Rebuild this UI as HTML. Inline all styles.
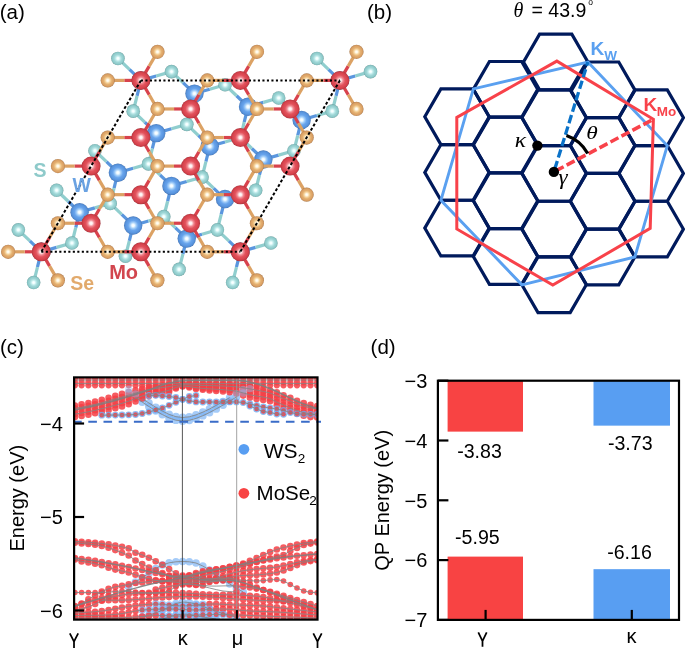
<!DOCTYPE html>
<html><head><meta charset="utf-8"><style>
html,body{margin:0;padding:0;background:#fff;width:685px;height:648px;overflow:hidden;}
svg{display:block;font-family:"Liberation Sans",sans-serif;will-change:transform;}
</style></head><body>
<svg width="685" height="648" viewBox="0 0 685 648">
<defs>
<radialGradient id="gMo" cx="0.5" cy="0.5" r="0.5"><stop offset="0" stop-color="#ffffff"/><stop offset="0.14" stop-color="#fff0f0"/><stop offset="0.34" stop-color="#f08890"/><stop offset="0.55" stop-color="#e2525c"/><stop offset="0.8" stop-color="#d8444e"/><stop offset="0.92" stop-color="#c83c46"/><stop offset="1" stop-color="#a0323a"/></radialGradient>
<radialGradient id="gW" cx="0.5" cy="0.5" r="0.5"><stop offset="0" stop-color="#ffffff"/><stop offset="0.14" stop-color="#f0faff"/><stop offset="0.34" stop-color="#a0ccf8"/><stop offset="0.55" stop-color="#68a4ec"/><stop offset="0.8" stop-color="#5a96e0"/><stop offset="0.92" stop-color="#528ad0"/><stop offset="1" stop-color="#4270b0"/></radialGradient>
<radialGradient id="gSe" cx="0.5" cy="0.5" r="0.5"><stop offset="0" stop-color="#ffffff"/><stop offset="0.16" stop-color="#fff8e4"/><stop offset="0.38" stop-color="#f4d098"/><stop offset="0.58" stop-color="#e4b070"/><stop offset="0.8" stop-color="#dca266"/><stop offset="0.92" stop-color="#cc945c"/><stop offset="1" stop-color="#a47446"/></radialGradient>
<radialGradient id="gS" cx="0.5" cy="0.5" r="0.5"><stop offset="0" stop-color="#ffffff"/><stop offset="0.16" stop-color="#f0ffff"/><stop offset="0.38" stop-color="#bce8e8"/><stop offset="0.58" stop-color="#9ed6d6"/><stop offset="0.8" stop-color="#90cccc"/><stop offset="0.92" stop-color="#82bebe"/><stop offset="1" stop-color="#649898"/></radialGradient>
</defs>
<line x1="140.90" y1="80.40" x2="129.43" y2="69.41" stroke="#5a96de" stroke-width="3.2"/><line x1="129.43" y1="69.41" x2="117.95" y2="58.43" stroke="#90cece" stroke-width="3.2"/>
<line x1="140.90" y1="80.40" x2="156.21" y2="76.01" stroke="#5a96de" stroke-width="3.2"/><line x1="156.21" y1="76.01" x2="171.52" y2="71.61" stroke="#90cece" stroke-width="3.2"/>
<line x1="140.90" y1="80.40" x2="137.06" y2="95.78" stroke="#5a96de" stroke-width="3.2"/><line x1="137.06" y1="95.78" x2="133.23" y2="111.16" stroke="#90cece" stroke-width="3.2"/>
<line x1="41.30" y1="251.80" x2="29.83" y2="240.81" stroke="#5a96de" stroke-width="3.2"/><line x1="29.83" y1="240.81" x2="18.35" y2="229.83" stroke="#90cece" stroke-width="3.2"/>
<line x1="41.30" y1="251.80" x2="56.61" y2="247.41" stroke="#5a96de" stroke-width="3.2"/><line x1="56.61" y1="247.41" x2="71.92" y2="243.01" stroke="#90cece" stroke-width="3.2"/>
<line x1="41.30" y1="251.80" x2="37.46" y2="267.18" stroke="#5a96de" stroke-width="3.2"/><line x1="37.46" y1="267.18" x2="33.63" y2="282.56" stroke="#90cece" stroke-width="3.2"/>
<line x1="79.59" y1="212.25" x2="68.12" y2="201.26" stroke="#5a96de" stroke-width="3.2"/><line x1="68.12" y1="201.26" x2="56.64" y2="190.27" stroke="#90cece" stroke-width="3.2"/>
<line x1="79.59" y1="212.25" x2="94.90" y2="207.85" stroke="#5a96de" stroke-width="3.2"/><line x1="94.90" y1="207.85" x2="110.21" y2="203.46" stroke="#90cece" stroke-width="3.2"/>
<line x1="79.59" y1="212.25" x2="75.76" y2="227.63" stroke="#5a96de" stroke-width="3.2"/><line x1="75.76" y1="227.63" x2="71.92" y2="243.01" stroke="#90cece" stroke-width="3.2"/>
<line x1="117.88" y1="172.69" x2="106.41" y2="161.71" stroke="#5a96de" stroke-width="3.2"/><line x1="106.41" y1="161.71" x2="94.94" y2="150.72" stroke="#90cece" stroke-width="3.2"/>
<line x1="117.88" y1="172.69" x2="133.19" y2="168.30" stroke="#5a96de" stroke-width="3.2"/><line x1="133.19" y1="168.30" x2="148.51" y2="163.90" stroke="#90cece" stroke-width="3.2"/>
<line x1="117.88" y1="172.69" x2="114.05" y2="188.07" stroke="#5a96de" stroke-width="3.2"/><line x1="114.05" y1="188.07" x2="110.21" y2="203.46" stroke="#90cece" stroke-width="3.2"/>
<line x1="156.18" y1="133.14" x2="144.70" y2="122.15" stroke="#5a96de" stroke-width="3.2"/><line x1="144.70" y1="122.15" x2="133.23" y2="111.16" stroke="#90cece" stroke-width="3.2"/>
<line x1="156.18" y1="133.14" x2="171.49" y2="128.74" stroke="#5a96de" stroke-width="3.2"/><line x1="171.49" y1="128.74" x2="186.80" y2="124.35" stroke="#90cece" stroke-width="3.2"/>
<line x1="156.18" y1="133.14" x2="152.34" y2="148.52" stroke="#5a96de" stroke-width="3.2"/><line x1="152.34" y1="148.52" x2="148.51" y2="163.90" stroke="#90cece" stroke-width="3.2"/>
<line x1="194.47" y1="93.58" x2="182.99" y2="82.60" stroke="#5a96de" stroke-width="3.2"/><line x1="182.99" y1="82.60" x2="171.52" y2="71.61" stroke="#90cece" stroke-width="3.2"/>
<line x1="194.47" y1="93.58" x2="209.78" y2="89.19" stroke="#5a96de" stroke-width="3.2"/><line x1="209.78" y1="89.19" x2="225.09" y2="84.79" stroke="#90cece" stroke-width="3.2"/>
<line x1="194.47" y1="93.58" x2="190.63" y2="108.97" stroke="#5a96de" stroke-width="3.2"/><line x1="190.63" y1="108.97" x2="186.80" y2="124.35" stroke="#90cece" stroke-width="3.2"/>
<line x1="133.16" y1="225.43" x2="121.69" y2="214.44" stroke="#5a96de" stroke-width="3.2"/><line x1="121.69" y1="214.44" x2="110.21" y2="203.46" stroke="#90cece" stroke-width="3.2"/>
<line x1="133.16" y1="225.43" x2="148.47" y2="221.04" stroke="#5a96de" stroke-width="3.2"/><line x1="148.47" y1="221.04" x2="163.78" y2="216.64" stroke="#90cece" stroke-width="3.2"/>
<line x1="133.16" y1="225.43" x2="129.33" y2="240.81" stroke="#5a96de" stroke-width="3.2"/><line x1="129.33" y1="240.81" x2="125.49" y2="256.19" stroke="#90cece" stroke-width="3.2"/>
<line x1="171.45" y1="185.88" x2="159.98" y2="174.89" stroke="#5a96de" stroke-width="3.2"/><line x1="159.98" y1="174.89" x2="148.51" y2="163.90" stroke="#90cece" stroke-width="3.2"/>
<line x1="171.45" y1="185.88" x2="186.76" y2="181.48" stroke="#5a96de" stroke-width="3.2"/><line x1="186.76" y1="181.48" x2="202.07" y2="177.09" stroke="#90cece" stroke-width="3.2"/>
<line x1="171.45" y1="185.88" x2="167.62" y2="201.26" stroke="#5a96de" stroke-width="3.2"/><line x1="167.62" y1="201.26" x2="163.78" y2="216.64" stroke="#90cece" stroke-width="3.2"/>
<line x1="209.75" y1="146.32" x2="198.27" y2="135.34" stroke="#5a96de" stroke-width="3.2"/><line x1="198.27" y1="135.34" x2="186.80" y2="124.35" stroke="#90cece" stroke-width="3.2"/>
<line x1="209.75" y1="146.32" x2="225.06" y2="141.93" stroke="#5a96de" stroke-width="3.2"/><line x1="225.06" y1="141.93" x2="240.37" y2="137.53" stroke="#90cece" stroke-width="3.2"/>
<line x1="209.75" y1="146.32" x2="205.91" y2="161.71" stroke="#5a96de" stroke-width="3.2"/><line x1="205.91" y1="161.71" x2="202.07" y2="177.09" stroke="#90cece" stroke-width="3.2"/>
<line x1="248.04" y1="106.77" x2="236.56" y2="95.78" stroke="#5a96de" stroke-width="3.2"/><line x1="236.56" y1="95.78" x2="225.09" y2="84.79" stroke="#90cece" stroke-width="3.2"/>
<line x1="248.04" y1="106.77" x2="263.35" y2="102.37" stroke="#5a96de" stroke-width="3.2"/><line x1="263.35" y1="102.37" x2="278.66" y2="97.98" stroke="#90cece" stroke-width="3.2"/>
<line x1="248.04" y1="106.77" x2="244.20" y2="122.15" stroke="#5a96de" stroke-width="3.2"/><line x1="244.20" y1="122.15" x2="240.37" y2="137.53" stroke="#90cece" stroke-width="3.2"/>
<line x1="186.73" y1="238.62" x2="175.26" y2="227.63" stroke="#5a96de" stroke-width="3.2"/><line x1="175.26" y1="227.63" x2="163.78" y2="216.64" stroke="#90cece" stroke-width="3.2"/>
<line x1="186.73" y1="238.62" x2="202.04" y2="234.22" stroke="#5a96de" stroke-width="3.2"/><line x1="202.04" y1="234.22" x2="217.35" y2="229.83" stroke="#90cece" stroke-width="3.2"/>
<line x1="186.73" y1="238.62" x2="182.89" y2="254.00" stroke="#5a96de" stroke-width="3.2"/><line x1="182.89" y1="254.00" x2="179.06" y2="269.38" stroke="#90cece" stroke-width="3.2"/>
<line x1="225.02" y1="199.06" x2="213.55" y2="188.07" stroke="#5a96de" stroke-width="3.2"/><line x1="213.55" y1="188.07" x2="202.07" y2="177.09" stroke="#90cece" stroke-width="3.2"/>
<line x1="225.02" y1="199.06" x2="240.33" y2="194.67" stroke="#5a96de" stroke-width="3.2"/><line x1="240.33" y1="194.67" x2="255.64" y2="190.27" stroke="#90cece" stroke-width="3.2"/>
<line x1="225.02" y1="199.06" x2="221.19" y2="214.44" stroke="#5a96de" stroke-width="3.2"/><line x1="221.19" y1="214.44" x2="217.35" y2="229.83" stroke="#90cece" stroke-width="3.2"/>
<line x1="263.32" y1="159.51" x2="251.84" y2="148.52" stroke="#5a96de" stroke-width="3.2"/><line x1="251.84" y1="148.52" x2="240.37" y2="137.53" stroke="#90cece" stroke-width="3.2"/>
<line x1="263.32" y1="159.51" x2="278.63" y2="155.11" stroke="#5a96de" stroke-width="3.2"/><line x1="278.63" y1="155.11" x2="293.94" y2="150.72" stroke="#90cece" stroke-width="3.2"/>
<line x1="263.32" y1="159.51" x2="259.48" y2="174.89" stroke="#5a96de" stroke-width="3.2"/><line x1="259.48" y1="174.89" x2="255.64" y2="190.27" stroke="#90cece" stroke-width="3.2"/>
<line x1="301.61" y1="119.95" x2="290.13" y2="108.97" stroke="#5a96de" stroke-width="3.2"/><line x1="290.13" y1="108.97" x2="278.66" y2="97.98" stroke="#90cece" stroke-width="3.2"/>
<line x1="301.61" y1="119.95" x2="316.92" y2="115.56" stroke="#5a96de" stroke-width="3.2"/><line x1="316.92" y1="115.56" x2="332.23" y2="111.16" stroke="#90cece" stroke-width="3.2"/>
<line x1="301.61" y1="119.95" x2="297.77" y2="135.34" stroke="#5a96de" stroke-width="3.2"/><line x1="297.77" y1="135.34" x2="293.94" y2="150.72" stroke="#90cece" stroke-width="3.2"/>
<line x1="339.90" y1="80.40" x2="328.43" y2="69.41" stroke="#5a96de" stroke-width="3.2"/><line x1="328.43" y1="69.41" x2="316.95" y2="58.43" stroke="#90cece" stroke-width="3.2"/>
<line x1="339.90" y1="80.40" x2="355.21" y2="76.01" stroke="#5a96de" stroke-width="3.2"/><line x1="355.21" y1="76.01" x2="370.52" y2="71.61" stroke="#90cece" stroke-width="3.2"/>
<line x1="339.90" y1="80.40" x2="336.06" y2="95.78" stroke="#5a96de" stroke-width="3.2"/><line x1="336.06" y1="95.78" x2="332.23" y2="111.16" stroke="#90cece" stroke-width="3.2"/>
<line x1="240.30" y1="251.80" x2="228.83" y2="240.81" stroke="#5a96de" stroke-width="3.2"/><line x1="228.83" y1="240.81" x2="217.35" y2="229.83" stroke="#90cece" stroke-width="3.2"/>
<line x1="240.30" y1="251.80" x2="255.61" y2="247.41" stroke="#5a96de" stroke-width="3.2"/><line x1="255.61" y1="247.41" x2="270.92" y2="243.01" stroke="#90cece" stroke-width="3.2"/>
<line x1="240.30" y1="251.80" x2="236.46" y2="267.18" stroke="#5a96de" stroke-width="3.2"/><line x1="236.46" y1="267.18" x2="232.63" y2="282.56" stroke="#90cece" stroke-width="3.2"/>
<circle cx="140.90" cy="80.40" r="9.20" fill="url(#gW)"/>
<circle cx="41.30" cy="251.80" r="9.20" fill="url(#gW)"/>
<circle cx="79.59" cy="212.25" r="9.20" fill="url(#gW)"/>
<circle cx="117.88" cy="172.69" r="9.20" fill="url(#gW)"/>
<circle cx="156.18" cy="133.14" r="9.20" fill="url(#gW)"/>
<circle cx="194.47" cy="93.58" r="9.20" fill="url(#gW)"/>
<circle cx="133.16" cy="225.43" r="9.20" fill="url(#gW)"/>
<circle cx="171.45" cy="185.88" r="9.20" fill="url(#gW)"/>
<circle cx="209.75" cy="146.32" r="9.20" fill="url(#gW)"/>
<circle cx="248.04" cy="106.77" r="9.20" fill="url(#gW)"/>
<circle cx="186.73" cy="238.62" r="9.20" fill="url(#gW)"/>
<circle cx="225.02" cy="199.06" r="9.20" fill="url(#gW)"/>
<circle cx="263.32" cy="159.51" r="9.20" fill="url(#gW)"/>
<circle cx="301.61" cy="119.95" r="9.20" fill="url(#gW)"/>
<circle cx="339.90" cy="80.40" r="9.20" fill="url(#gW)"/>
<circle cx="240.30" cy="251.80" r="9.20" fill="url(#gW)"/>
<circle cx="110.21" cy="203.46" r="6.80" fill="url(#gS)"/>
<circle cx="240.37" cy="137.53" r="6.80" fill="url(#gS)"/>
<circle cx="217.35" cy="229.83" r="6.80" fill="url(#gS)"/>
<circle cx="332.23" cy="111.16" r="6.80" fill="url(#gS)"/>
<circle cx="316.95" cy="58.43" r="6.80" fill="url(#gS)"/>
<circle cx="33.63" cy="282.56" r="6.80" fill="url(#gS)"/>
<circle cx="202.07" cy="177.09" r="6.80" fill="url(#gS)"/>
<circle cx="186.80" cy="124.35" r="6.80" fill="url(#gS)"/>
<circle cx="270.92" cy="243.01" r="6.80" fill="url(#gS)"/>
<circle cx="278.66" cy="97.98" r="6.80" fill="url(#gS)"/>
<circle cx="71.92" cy="243.01" r="6.80" fill="url(#gS)"/>
<circle cx="225.09" cy="84.79" r="6.80" fill="url(#gS)"/>
<circle cx="179.06" cy="269.38" r="6.80" fill="url(#gS)"/>
<circle cx="370.52" cy="71.61" r="6.80" fill="url(#gS)"/>
<circle cx="133.23" cy="111.16" r="6.80" fill="url(#gS)"/>
<circle cx="293.94" cy="150.72" r="6.80" fill="url(#gS)"/>
<circle cx="171.52" cy="71.61" r="6.80" fill="url(#gS)"/>
<circle cx="232.63" cy="282.56" r="6.80" fill="url(#gS)"/>
<circle cx="125.49" cy="256.19" r="6.80" fill="url(#gS)"/>
<circle cx="255.64" cy="190.27" r="6.80" fill="url(#gS)"/>
<circle cx="94.94" cy="150.72" r="6.80" fill="url(#gS)"/>
<circle cx="148.51" cy="163.90" r="6.80" fill="url(#gS)"/>
<circle cx="18.35" cy="229.83" r="6.80" fill="url(#gS)"/>
<circle cx="117.95" cy="58.43" r="6.80" fill="url(#gS)"/>
<circle cx="163.78" cy="216.64" r="6.80" fill="url(#gS)"/>
<circle cx="56.64" cy="190.27" r="6.80" fill="url(#gS)"/>
<line x1="140.90" y1="80.40" x2="124.32" y2="80.40" stroke="#d8424c" stroke-width="3.2"/><line x1="124.32" y1="80.40" x2="107.73" y2="80.40" stroke="#dca264" stroke-width="3.2"/>
<line x1="140.90" y1="80.40" x2="149.18" y2="94.68" stroke="#d8424c" stroke-width="3.2"/><line x1="149.18" y1="94.68" x2="157.47" y2="108.97" stroke="#dca264" stroke-width="3.2"/>
<line x1="140.90" y1="80.40" x2="149.20" y2="66.12" stroke="#d8424c" stroke-width="3.2"/><line x1="149.20" y1="66.12" x2="157.50" y2="51.83" stroke="#dca264" stroke-width="3.2"/>
<line x1="91.10" y1="166.10" x2="74.52" y2="166.10" stroke="#d8424c" stroke-width="3.2"/><line x1="74.52" y1="166.10" x2="57.93" y2="166.10" stroke="#dca264" stroke-width="3.2"/>
<line x1="91.10" y1="166.10" x2="99.38" y2="180.38" stroke="#d8424c" stroke-width="3.2"/><line x1="99.38" y1="180.38" x2="107.67" y2="194.67" stroke="#dca264" stroke-width="3.2"/>
<line x1="91.10" y1="166.10" x2="99.40" y2="151.82" stroke="#d8424c" stroke-width="3.2"/><line x1="99.40" y1="151.82" x2="107.70" y2="137.53" stroke="#dca264" stroke-width="3.2"/>
<line x1="41.30" y1="251.80" x2="24.72" y2="251.80" stroke="#d8424c" stroke-width="3.2"/><line x1="24.72" y1="251.80" x2="8.13" y2="251.80" stroke="#dca264" stroke-width="3.2"/>
<line x1="41.30" y1="251.80" x2="49.58" y2="266.08" stroke="#d8424c" stroke-width="3.2"/><line x1="49.58" y1="266.08" x2="57.87" y2="280.37" stroke="#dca264" stroke-width="3.2"/>
<line x1="41.30" y1="251.80" x2="49.60" y2="237.52" stroke="#d8424c" stroke-width="3.2"/><line x1="49.60" y1="237.52" x2="57.90" y2="223.23" stroke="#dca264" stroke-width="3.2"/>
<line x1="140.87" y1="137.53" x2="124.28" y2="137.53" stroke="#d8424c" stroke-width="3.2"/><line x1="124.28" y1="137.53" x2="107.70" y2="137.53" stroke="#dca264" stroke-width="3.2"/>
<line x1="140.87" y1="137.53" x2="149.15" y2="151.82" stroke="#d8424c" stroke-width="3.2"/><line x1="149.15" y1="151.82" x2="157.43" y2="166.10" stroke="#dca264" stroke-width="3.2"/>
<line x1="140.87" y1="137.53" x2="149.17" y2="123.25" stroke="#d8424c" stroke-width="3.2"/><line x1="149.17" y1="123.25" x2="157.47" y2="108.97" stroke="#dca264" stroke-width="3.2"/>
<line x1="91.07" y1="223.23" x2="74.48" y2="223.23" stroke="#d8424c" stroke-width="3.2"/><line x1="74.48" y1="223.23" x2="57.90" y2="223.23" stroke="#dca264" stroke-width="3.2"/>
<line x1="91.07" y1="223.23" x2="99.35" y2="237.52" stroke="#d8424c" stroke-width="3.2"/><line x1="99.35" y1="237.52" x2="107.63" y2="251.80" stroke="#dca264" stroke-width="3.2"/>
<line x1="91.07" y1="223.23" x2="99.37" y2="208.95" stroke="#d8424c" stroke-width="3.2"/><line x1="99.37" y1="208.95" x2="107.67" y2="194.67" stroke="#dca264" stroke-width="3.2"/>
<line x1="190.63" y1="108.97" x2="174.05" y2="108.97" stroke="#d8424c" stroke-width="3.2"/><line x1="174.05" y1="108.97" x2="157.47" y2="108.97" stroke="#dca264" stroke-width="3.2"/>
<line x1="190.63" y1="108.97" x2="198.92" y2="123.25" stroke="#d8424c" stroke-width="3.2"/><line x1="198.92" y1="123.25" x2="207.20" y2="137.53" stroke="#dca264" stroke-width="3.2"/>
<line x1="190.63" y1="108.97" x2="198.93" y2="94.68" stroke="#d8424c" stroke-width="3.2"/><line x1="198.93" y1="94.68" x2="207.23" y2="80.40" stroke="#dca264" stroke-width="3.2"/>
<line x1="140.83" y1="194.67" x2="124.25" y2="194.67" stroke="#d8424c" stroke-width="3.2"/><line x1="124.25" y1="194.67" x2="107.67" y2="194.67" stroke="#dca264" stroke-width="3.2"/>
<line x1="140.83" y1="194.67" x2="149.12" y2="208.95" stroke="#d8424c" stroke-width="3.2"/><line x1="149.12" y1="208.95" x2="157.40" y2="223.23" stroke="#dca264" stroke-width="3.2"/>
<line x1="140.83" y1="194.67" x2="149.13" y2="180.38" stroke="#d8424c" stroke-width="3.2"/><line x1="149.13" y1="180.38" x2="157.43" y2="166.10" stroke="#dca264" stroke-width="3.2"/>
<line x1="240.40" y1="80.40" x2="223.82" y2="80.40" stroke="#d8424c" stroke-width="3.2"/><line x1="223.82" y1="80.40" x2="207.23" y2="80.40" stroke="#dca264" stroke-width="3.2"/>
<line x1="240.40" y1="80.40" x2="248.68" y2="94.68" stroke="#d8424c" stroke-width="3.2"/><line x1="248.68" y1="94.68" x2="256.97" y2="108.97" stroke="#dca264" stroke-width="3.2"/>
<line x1="240.40" y1="80.40" x2="248.70" y2="66.12" stroke="#d8424c" stroke-width="3.2"/><line x1="248.70" y1="66.12" x2="257.00" y2="51.83" stroke="#dca264" stroke-width="3.2"/>
<line x1="190.60" y1="166.10" x2="174.02" y2="166.10" stroke="#d8424c" stroke-width="3.2"/><line x1="174.02" y1="166.10" x2="157.43" y2="166.10" stroke="#dca264" stroke-width="3.2"/>
<line x1="190.60" y1="166.10" x2="198.88" y2="180.38" stroke="#d8424c" stroke-width="3.2"/><line x1="198.88" y1="180.38" x2="207.17" y2="194.67" stroke="#dca264" stroke-width="3.2"/>
<line x1="190.60" y1="166.10" x2="198.90" y2="151.82" stroke="#d8424c" stroke-width="3.2"/><line x1="198.90" y1="151.82" x2="207.20" y2="137.53" stroke="#dca264" stroke-width="3.2"/>
<line x1="140.80" y1="251.80" x2="124.22" y2="251.80" stroke="#d8424c" stroke-width="3.2"/><line x1="124.22" y1="251.80" x2="107.63" y2="251.80" stroke="#dca264" stroke-width="3.2"/>
<line x1="140.80" y1="251.80" x2="149.08" y2="266.08" stroke="#d8424c" stroke-width="3.2"/><line x1="149.08" y1="266.08" x2="157.37" y2="280.37" stroke="#dca264" stroke-width="3.2"/>
<line x1="140.80" y1="251.80" x2="149.10" y2="237.52" stroke="#d8424c" stroke-width="3.2"/><line x1="149.10" y1="237.52" x2="157.40" y2="223.23" stroke="#dca264" stroke-width="3.2"/>
<line x1="240.37" y1="137.53" x2="223.78" y2="137.53" stroke="#d8424c" stroke-width="3.2"/><line x1="223.78" y1="137.53" x2="207.20" y2="137.53" stroke="#dca264" stroke-width="3.2"/>
<line x1="240.37" y1="137.53" x2="248.65" y2="151.82" stroke="#d8424c" stroke-width="3.2"/><line x1="248.65" y1="151.82" x2="256.93" y2="166.10" stroke="#dca264" stroke-width="3.2"/>
<line x1="240.37" y1="137.53" x2="248.67" y2="123.25" stroke="#d8424c" stroke-width="3.2"/><line x1="248.67" y1="123.25" x2="256.97" y2="108.97" stroke="#dca264" stroke-width="3.2"/>
<line x1="190.57" y1="223.23" x2="173.98" y2="223.23" stroke="#d8424c" stroke-width="3.2"/><line x1="173.98" y1="223.23" x2="157.40" y2="223.23" stroke="#dca264" stroke-width="3.2"/>
<line x1="190.57" y1="223.23" x2="198.85" y2="237.52" stroke="#d8424c" stroke-width="3.2"/><line x1="198.85" y1="237.52" x2="207.13" y2="251.80" stroke="#dca264" stroke-width="3.2"/>
<line x1="190.57" y1="223.23" x2="198.87" y2="208.95" stroke="#d8424c" stroke-width="3.2"/><line x1="198.87" y1="208.95" x2="207.17" y2="194.67" stroke="#dca264" stroke-width="3.2"/>
<line x1="290.13" y1="108.97" x2="273.55" y2="108.97" stroke="#d8424c" stroke-width="3.2"/><line x1="273.55" y1="108.97" x2="256.97" y2="108.97" stroke="#dca264" stroke-width="3.2"/>
<line x1="290.13" y1="108.97" x2="298.42" y2="123.25" stroke="#d8424c" stroke-width="3.2"/><line x1="298.42" y1="123.25" x2="306.70" y2="137.53" stroke="#dca264" stroke-width="3.2"/>
<line x1="290.13" y1="108.97" x2="298.43" y2="94.68" stroke="#d8424c" stroke-width="3.2"/><line x1="298.43" y1="94.68" x2="306.73" y2="80.40" stroke="#dca264" stroke-width="3.2"/>
<line x1="240.33" y1="194.67" x2="223.75" y2="194.67" stroke="#d8424c" stroke-width="3.2"/><line x1="223.75" y1="194.67" x2="207.17" y2="194.67" stroke="#dca264" stroke-width="3.2"/>
<line x1="240.33" y1="194.67" x2="248.62" y2="208.95" stroke="#d8424c" stroke-width="3.2"/><line x1="248.62" y1="208.95" x2="256.90" y2="223.23" stroke="#dca264" stroke-width="3.2"/>
<line x1="240.33" y1="194.67" x2="248.63" y2="180.38" stroke="#d8424c" stroke-width="3.2"/><line x1="248.63" y1="180.38" x2="256.93" y2="166.10" stroke="#dca264" stroke-width="3.2"/>
<line x1="339.90" y1="80.40" x2="323.32" y2="80.40" stroke="#d8424c" stroke-width="3.2"/><line x1="323.32" y1="80.40" x2="306.73" y2="80.40" stroke="#dca264" stroke-width="3.2"/>
<line x1="339.90" y1="80.40" x2="348.18" y2="94.68" stroke="#d8424c" stroke-width="3.2"/><line x1="348.18" y1="94.68" x2="356.47" y2="108.97" stroke="#dca264" stroke-width="3.2"/>
<line x1="339.90" y1="80.40" x2="348.20" y2="66.12" stroke="#d8424c" stroke-width="3.2"/><line x1="348.20" y1="66.12" x2="356.50" y2="51.83" stroke="#dca264" stroke-width="3.2"/>
<line x1="290.10" y1="166.10" x2="273.52" y2="166.10" stroke="#d8424c" stroke-width="3.2"/><line x1="273.52" y1="166.10" x2="256.93" y2="166.10" stroke="#dca264" stroke-width="3.2"/>
<line x1="290.10" y1="166.10" x2="298.38" y2="180.38" stroke="#d8424c" stroke-width="3.2"/><line x1="298.38" y1="180.38" x2="306.67" y2="194.67" stroke="#dca264" stroke-width="3.2"/>
<line x1="290.10" y1="166.10" x2="298.40" y2="151.82" stroke="#d8424c" stroke-width="3.2"/><line x1="298.40" y1="151.82" x2="306.70" y2="137.53" stroke="#dca264" stroke-width="3.2"/>
<line x1="240.30" y1="251.80" x2="223.72" y2="251.80" stroke="#d8424c" stroke-width="3.2"/><line x1="223.72" y1="251.80" x2="207.13" y2="251.80" stroke="#dca264" stroke-width="3.2"/>
<line x1="240.30" y1="251.80" x2="248.58" y2="266.08" stroke="#d8424c" stroke-width="3.2"/><line x1="248.58" y1="266.08" x2="256.87" y2="280.37" stroke="#dca264" stroke-width="3.2"/>
<line x1="240.30" y1="251.80" x2="248.60" y2="237.52" stroke="#d8424c" stroke-width="3.2"/><line x1="248.60" y1="237.52" x2="256.90" y2="223.23" stroke="#dca264" stroke-width="3.2"/>
<circle cx="140.90" cy="80.40" r="9.50" fill="url(#gMo)"/>
<circle cx="91.10" cy="166.10" r="9.50" fill="url(#gMo)"/>
<circle cx="41.30" cy="251.80" r="9.50" fill="url(#gMo)"/>
<circle cx="140.87" cy="137.53" r="9.50" fill="url(#gMo)"/>
<circle cx="91.07" cy="223.23" r="9.50" fill="url(#gMo)"/>
<circle cx="190.63" cy="108.97" r="9.50" fill="url(#gMo)"/>
<circle cx="140.83" cy="194.67" r="9.50" fill="url(#gMo)"/>
<circle cx="240.40" cy="80.40" r="9.50" fill="url(#gMo)"/>
<circle cx="190.60" cy="166.10" r="9.50" fill="url(#gMo)"/>
<circle cx="140.80" cy="251.80" r="9.50" fill="url(#gMo)"/>
<circle cx="240.37" cy="137.53" r="9.50" fill="url(#gMo)"/>
<circle cx="190.57" cy="223.23" r="9.50" fill="url(#gMo)"/>
<circle cx="290.13" cy="108.97" r="9.50" fill="url(#gMo)"/>
<circle cx="240.33" cy="194.67" r="9.50" fill="url(#gMo)"/>
<circle cx="339.90" cy="80.40" r="9.50" fill="url(#gMo)"/>
<circle cx="290.10" cy="166.10" r="9.50" fill="url(#gMo)"/>
<circle cx="240.30" cy="251.80" r="9.50" fill="url(#gMo)"/>
<circle cx="107.63" cy="251.80" r="7.10" fill="url(#gSe)"/>
<circle cx="256.93" cy="166.10" r="7.10" fill="url(#gSe)"/>
<circle cx="306.73" cy="80.40" r="7.10" fill="url(#gSe)"/>
<circle cx="157.40" cy="223.23" r="7.10" fill="url(#gSe)"/>
<circle cx="257.00" cy="51.83" r="7.10" fill="url(#gSe)"/>
<circle cx="207.20" cy="137.53" r="7.10" fill="url(#gSe)"/>
<circle cx="157.37" cy="280.37" r="7.10" fill="url(#gSe)"/>
<circle cx="256.87" cy="280.37" r="7.10" fill="url(#gSe)"/>
<circle cx="8.13" cy="251.80" r="7.10" fill="url(#gSe)"/>
<circle cx="157.43" cy="166.10" r="7.10" fill="url(#gSe)"/>
<circle cx="207.23" cy="80.40" r="7.10" fill="url(#gSe)"/>
<circle cx="157.50" cy="51.83" r="7.10" fill="url(#gSe)"/>
<circle cx="107.70" cy="137.53" r="7.10" fill="url(#gSe)"/>
<circle cx="57.90" cy="223.23" r="7.10" fill="url(#gSe)"/>
<circle cx="57.87" cy="280.37" r="7.10" fill="url(#gSe)"/>
<circle cx="256.97" cy="108.97" r="7.10" fill="url(#gSe)"/>
<circle cx="207.17" cy="194.67" r="7.10" fill="url(#gSe)"/>
<circle cx="57.93" cy="166.10" r="7.10" fill="url(#gSe)"/>
<circle cx="107.73" cy="80.40" r="7.10" fill="url(#gSe)"/>
<circle cx="356.47" cy="108.97" r="7.10" fill="url(#gSe)"/>
<circle cx="306.67" cy="194.67" r="7.10" fill="url(#gSe)"/>
<circle cx="207.13" cy="251.80" r="7.10" fill="url(#gSe)"/>
<circle cx="306.70" cy="137.53" r="7.10" fill="url(#gSe)"/>
<circle cx="256.90" cy="223.23" r="7.10" fill="url(#gSe)"/>
<circle cx="356.50" cy="51.83" r="7.10" fill="url(#gSe)"/>
<circle cx="107.67" cy="194.67" r="7.10" fill="url(#gSe)"/>
<circle cx="157.47" cy="108.97" r="7.10" fill="url(#gSe)"/>
<line x1="140.90" y1="80.40" x2="339.90" y2="80.40" stroke="#000" stroke-width="2.0" stroke-dasharray="2.1,2.4"/>
<line x1="41.30" y1="251.80" x2="240.30" y2="251.80" stroke="#000" stroke-width="2.0" stroke-dasharray="2.1,2.4"/>
<line x1="140.90" y1="80.40" x2="41.30" y2="251.80" stroke="#000" stroke-width="2.0" stroke-dasharray="2.9,2.1"/>
<line x1="339.90" y1="80.40" x2="240.30" y2="251.80" stroke="#000" stroke-width="2.0" stroke-dasharray="2.9,2.1"/>
<text x="33.6" y="176.8" font-family="Liberation Sans, sans-serif" font-weight="bold" font-size="19.5" fill="#8ecaca">S</text>
<text x="72.6" y="192.4" font-family="Liberation Sans, sans-serif" font-weight="bold" font-size="19.5" fill="#6aa2e2">W</text>
<text x="109.2" y="278.8" font-family="Liberation Sans, sans-serif" font-weight="bold" font-size="20" fill="#d2464e">Mo</text>
<text x="70.2" y="290.2" font-family="Liberation Sans, sans-serif" font-weight="bold" font-size="19.5" fill="#e2aa6c">Se</text>
<polygon points="489.20,116.70 473.10,144.55 440.90,144.55 424.80,116.70 440.90,88.85 473.10,88.85" fill="none" stroke="#001a5c" stroke-width="3.2" stroke-linejoin="miter"/>
<polygon points="489.20,172.40 473.10,200.25 440.90,200.25 424.80,172.40 440.90,144.55 473.10,144.55" fill="none" stroke="#001a5c" stroke-width="3.2" stroke-linejoin="miter"/>
<polygon points="489.20,228.10 473.10,255.95 440.90,255.95 424.80,228.10 440.90,200.25 473.10,200.25" fill="none" stroke="#001a5c" stroke-width="3.2" stroke-linejoin="miter"/>
<polygon points="537.75,89.35 521.65,117.20 489.45,117.20 473.35,89.35 489.45,61.50 521.65,61.50" fill="none" stroke="#001a5c" stroke-width="3.2" stroke-linejoin="miter"/>
<polygon points="537.75,145.05 521.65,172.90 489.45,172.90 473.35,145.05 489.45,117.20 521.65,117.20" fill="none" stroke="#001a5c" stroke-width="3.2" stroke-linejoin="miter"/>
<polygon points="537.75,200.75 521.65,228.60 489.45,228.60 473.35,200.75 489.45,172.90 521.65,172.90" fill="none" stroke="#001a5c" stroke-width="3.2" stroke-linejoin="miter"/>
<polygon points="537.75,256.45 521.65,284.30 489.45,284.30 473.35,256.45 489.45,228.60 521.65,228.60" fill="none" stroke="#001a5c" stroke-width="3.2" stroke-linejoin="miter"/>
<polygon points="587.90,62.00 571.80,89.85 539.60,89.85 523.50,62.00 539.60,34.15 571.80,34.15" fill="none" stroke="#001a5c" stroke-width="3.2" stroke-linejoin="miter"/>
<polygon points="586.30,117.70 570.20,145.55 538.00,145.55 521.90,117.70 538.00,89.85 570.20,89.85" fill="none" stroke="#001a5c" stroke-width="3.2" stroke-linejoin="miter"/>
<polygon points="586.30,173.40 570.20,201.25 538.00,201.25 521.90,173.40 538.00,145.55 570.20,145.55" fill="none" stroke="#001a5c" stroke-width="3.2" stroke-linejoin="miter"/>
<polygon points="586.30,229.10 570.20,256.95 538.00,256.95 521.90,229.10 538.00,201.25 570.20,201.25" fill="none" stroke="#001a5c" stroke-width="3.2" stroke-linejoin="miter"/>
<polygon points="586.30,284.80 570.20,312.65 538.00,312.65 521.90,284.80 538.00,256.95 570.20,256.95" fill="none" stroke="#001a5c" stroke-width="3.2" stroke-linejoin="miter"/>
<polygon points="634.85,89.85 618.75,117.70 586.55,117.70 570.45,89.85 586.55,62.00 618.75,62.00" fill="none" stroke="#001a5c" stroke-width="3.2" stroke-linejoin="miter"/>
<polygon points="634.85,145.55 618.75,173.40 586.55,173.40 570.45,145.55 586.55,117.70 618.75,117.70" fill="none" stroke="#001a5c" stroke-width="3.2" stroke-linejoin="miter"/>
<polygon points="634.85,201.25 618.75,229.10 586.55,229.10 570.45,201.25 586.55,173.40 618.75,173.40" fill="none" stroke="#001a5c" stroke-width="3.2" stroke-linejoin="miter"/>
<polygon points="634.85,256.95 618.75,284.80 586.55,284.80 570.45,256.95 586.55,229.10 618.75,229.10" fill="none" stroke="#001a5c" stroke-width="3.2" stroke-linejoin="miter"/>
<polygon points="683.40,117.70 667.30,145.55 635.10,145.55 619.00,117.70 635.10,89.85 667.30,89.85" fill="none" stroke="#001a5c" stroke-width="3.2" stroke-linejoin="miter"/>
<polygon points="683.40,173.40 667.30,201.25 635.10,201.25 619.00,173.40 635.10,145.55 667.30,145.55" fill="none" stroke="#001a5c" stroke-width="3.2" stroke-linejoin="miter"/>
<polygon points="683.40,229.10 667.30,256.95 635.10,256.95 619.00,229.10 635.10,201.25 667.30,201.25" fill="none" stroke="#001a5c" stroke-width="3.2" stroke-linejoin="miter"/>
<polygon points="587.90,62.00 667.30,145.55 634.85,256.95 521.90,284.80 440.90,200.25 473.35,88.85" fill="none" stroke="#5aa0f0" stroke-width="2.9"/>
<polygon points="556.90,61.10 653.40,119.30 650.20,228.40 552.80,285.10 456.80,229.00 456.80,117.50" fill="none" stroke="#f8424a" stroke-width="3"/>
<line x1="553.90" y1="171.90" x2="587.90" y2="62.00" stroke="#0b72c8" stroke-width="3.3" stroke-dasharray="8.5,3.5" stroke-dashoffset="-3"/>
<line x1="553.90" y1="171.90" x2="653.40" y2="119.30" stroke="#f8424a" stroke-width="3.6" stroke-dasharray="9,3.4" stroke-dashoffset="-2"/>
<path d="M566.43,135.50 A38.5,38.5 0 0 1 587.73,153.53" fill="none" stroke="#000" stroke-width="3.2"/>
<circle cx="553.90" cy="171.90" r="5.2" fill="#000"/>
<circle cx="537.4" cy="145.6" r="5.2" fill="#000"/>
<text x="513.5" y="16.6" font-family="Liberation Serif, serif" font-style="italic" font-size="20">&#952;</text>
<text x="531.5" y="16.6" font-family="Liberation Sans, sans-serif" font-size="19.5">= 43.9</text>
<text x="588.2" y="4.9" font-family="Liberation Sans, sans-serif" font-size="8.5">o</text>
<text x="590.6" y="55.2" font-family="Liberation Sans, sans-serif" font-size="19" font-weight="bold" fill="#5aa0f0">K</text>
<text x="604.3" y="60" font-family="Liberation Sans, sans-serif" font-size="13.5" font-weight="bold" fill="#5aa0f0">W</text>
<text x="643.6" y="110.5" font-family="Liberation Sans, sans-serif" font-size="19" font-weight="bold" fill="#f8424a">K</text>
<text x="656.8" y="115.9" font-family="Liberation Sans, sans-serif" font-size="13.5" font-weight="bold" fill="#f8424a">Mo</text>
<text transform="translate(586.3,138.8) scale(1.2,1)" font-family="Liberation Serif, serif" font-style="italic" font-size="19.5">&#952;</text>
<text transform="translate(514.8,146.6) scale(1.12,1)" font-family="Liberation Serif, serif" font-style="italic" font-size="21">&#954;</text>
<text transform="translate(558.6,183.6) scale(1.1,1)" font-family="Liberation Serif, serif" font-style="italic" font-size="21">&#947;</text>
<defs><clipPath id="cclip"><rect x="74.1" y="377.4" width="243.4" height="242.2"/></clipPath></defs>
<g clip-path="url(#cclip)">
<circle cx="142.2" cy="398.5" r="3.9" fill="rgba(118,176,244,0.66)"/><circle cx="148.9" cy="403.0" r="3.9" fill="rgba(118,176,244,0.66)"/><circle cx="155.7" cy="407.3" r="3.9" fill="rgba(118,176,244,0.66)"/><circle cx="162.4" cy="411.1" r="3.9" fill="rgba(118,176,244,0.66)"/><circle cx="169.1" cy="414.4" r="3.9" fill="rgba(118,176,244,0.66)"/><circle cx="175.9" cy="416.7" r="3.9" fill="rgba(118,176,244,0.66)"/><circle cx="182.6" cy="417.5" r="3.9" fill="rgba(118,176,244,0.66)"/><circle cx="189.3" cy="416.8" r="3.9" fill="rgba(118,176,244,0.66)"/><circle cx="196.0" cy="414.9" r="3.9" fill="rgba(118,176,244,0.66)"/><circle cx="202.8" cy="412.2" r="3.9" fill="rgba(118,176,244,0.66)"/><circle cx="209.5" cy="409.0" r="3.9" fill="rgba(118,176,244,0.66)"/><circle cx="216.2" cy="405.4" r="3.9" fill="rgba(118,176,244,0.66)"/><circle cx="223.0" cy="401.6" r="3.9" fill="rgba(118,176,244,0.66)"/><circle cx="229.7" cy="397.6" r="3.9" fill="rgba(118,176,244,0.66)"/>
<circle cx="135.5" cy="397.4" r="3.9" fill="rgba(118,176,244,0.66)"/><circle cx="142.2" cy="402.0" r="3.9" fill="rgba(118,176,244,0.66)"/><circle cx="148.9" cy="406.5" r="3.9" fill="rgba(118,176,244,0.66)"/><circle cx="155.7" cy="410.8" r="3.9" fill="rgba(118,176,244,0.66)"/><circle cx="162.4" cy="414.6" r="3.9" fill="rgba(118,176,244,0.66)"/><circle cx="169.1" cy="417.9" r="3.9" fill="rgba(118,176,244,0.66)"/><circle cx="175.9" cy="420.2" r="3.9" fill="rgba(118,176,244,0.66)"/><circle cx="182.6" cy="421.0" r="3.9" fill="rgba(118,176,244,0.66)"/><circle cx="189.3" cy="420.3" r="3.9" fill="rgba(118,176,244,0.66)"/><circle cx="196.0" cy="418.4" r="3.9" fill="rgba(118,176,244,0.66)"/><circle cx="202.8" cy="415.7" r="3.9" fill="rgba(118,176,244,0.66)"/><circle cx="209.5" cy="412.5" r="3.9" fill="rgba(118,176,244,0.66)"/><circle cx="216.2" cy="408.9" r="3.9" fill="rgba(118,176,244,0.66)"/><circle cx="223.0" cy="405.1" r="3.9" fill="rgba(118,176,244,0.66)"/><circle cx="229.7" cy="401.1" r="3.9" fill="rgba(118,176,244,0.66)"/><circle cx="236.4" cy="397.0" r="3.9" fill="rgba(118,176,244,0.66)"/>
<circle cx="74.9" cy="378.5" r="3.1" fill="rgba(245,64,70,0.86)"/><circle cx="81.6" cy="378.5" r="3.1" fill="rgba(245,64,70,0.86)"/><circle cx="88.4" cy="378.5" r="3.1" fill="rgba(245,64,70,0.86)"/><circle cx="95.1" cy="378.5" r="3.1" fill="rgba(245,64,70,0.86)"/><circle cx="101.8" cy="378.5" r="3.1" fill="rgba(245,64,70,0.86)"/><circle cx="108.6" cy="378.5" r="3.1" fill="rgba(245,64,70,0.86)"/><circle cx="115.3" cy="378.5" r="3.1" fill="rgba(245,64,70,0.86)"/><circle cx="122.0" cy="378.5" r="3.1" fill="rgba(245,64,70,0.86)"/><circle cx="128.7" cy="378.5" r="3.1" fill="rgba(245,64,70,0.86)"/><circle cx="135.5" cy="378.5" r="3.1" fill="rgba(245,64,70,0.86)"/><circle cx="142.2" cy="378.5" r="3.1" fill="rgba(245,64,70,0.86)"/><circle cx="148.9" cy="378.5" r="3.1" fill="rgba(245,64,70,0.86)"/><circle cx="155.7" cy="378.5" r="3.1" fill="rgba(245,64,70,0.86)"/><circle cx="162.4" cy="378.5" r="3.1" fill="rgba(245,64,70,0.86)"/><circle cx="169.1" cy="378.5" r="3.1" fill="rgba(245,64,70,0.86)"/><circle cx="175.9" cy="378.5" r="3.1" fill="rgba(245,64,70,0.86)"/><circle cx="182.6" cy="378.5" r="3.1" fill="rgba(245,64,70,0.86)"/><circle cx="189.3" cy="378.5" r="3.1" fill="rgba(245,64,70,0.86)"/><circle cx="196.0" cy="378.5" r="3.1" fill="rgba(245,64,70,0.86)"/><circle cx="202.8" cy="378.5" r="3.1" fill="rgba(245,64,70,0.86)"/><circle cx="209.5" cy="378.5" r="3.1" fill="rgba(245,64,70,0.86)"/><circle cx="216.2" cy="378.5" r="3.1" fill="rgba(245,64,70,0.86)"/><circle cx="223.0" cy="378.5" r="3.1" fill="rgba(245,64,70,0.86)"/><circle cx="229.7" cy="378.5" r="3.1" fill="rgba(245,64,70,0.86)"/><circle cx="236.4" cy="378.5" r="3.1" fill="rgba(245,64,70,0.86)"/><circle cx="243.2" cy="378.5" r="3.1" fill="rgba(245,64,70,0.86)"/><circle cx="249.9" cy="378.5" r="3.1" fill="rgba(245,64,70,0.86)"/><circle cx="256.6" cy="378.5" r="3.1" fill="rgba(245,64,70,0.86)"/><circle cx="263.3" cy="378.5" r="3.1" fill="rgba(245,64,70,0.86)"/><circle cx="270.1" cy="378.5" r="3.1" fill="rgba(245,64,70,0.86)"/><circle cx="276.8" cy="378.5" r="3.1" fill="rgba(245,64,70,0.86)"/><circle cx="283.5" cy="378.5" r="3.1" fill="rgba(245,64,70,0.86)"/><circle cx="290.3" cy="378.5" r="3.1" fill="rgba(245,64,70,0.86)"/><circle cx="297.0" cy="378.5" r="3.1" fill="rgba(245,64,70,0.86)"/><circle cx="303.7" cy="378.5" r="3.1" fill="rgba(245,64,70,0.86)"/><circle cx="310.5" cy="378.5" r="3.1" fill="rgba(245,64,70,0.86)"/><circle cx="317.2" cy="378.5" r="3.1" fill="rgba(245,64,70,0.86)"/>
<circle cx="74.9" cy="382.3" r="3.1" fill="rgba(245,64,70,0.86)"/><circle cx="81.6" cy="382.3" r="3.1" fill="rgba(245,64,70,0.86)"/><circle cx="88.4" cy="382.3" r="3.1" fill="rgba(245,64,70,0.86)"/><circle cx="95.1" cy="382.3" r="3.1" fill="rgba(245,64,70,0.86)"/><circle cx="101.8" cy="382.3" r="3.1" fill="rgba(245,64,70,0.86)"/><circle cx="108.6" cy="382.3" r="3.1" fill="rgba(245,64,70,0.86)"/><circle cx="115.3" cy="382.3" r="3.1" fill="rgba(245,64,70,0.86)"/><circle cx="122.0" cy="382.3" r="3.1" fill="rgba(245,64,70,0.86)"/><circle cx="128.7" cy="382.3" r="3.1" fill="rgba(245,64,70,0.86)"/><circle cx="135.5" cy="382.3" r="3.1" fill="rgba(245,64,70,0.86)"/><circle cx="142.2" cy="382.3" r="3.1" fill="rgba(245,64,70,0.86)"/><circle cx="148.9" cy="382.3" r="3.1" fill="rgba(245,64,70,0.86)"/><circle cx="155.7" cy="382.3" r="3.1" fill="rgba(245,64,70,0.86)"/><circle cx="162.4" cy="382.3" r="3.1" fill="rgba(245,64,70,0.86)"/><circle cx="169.1" cy="382.3" r="3.1" fill="rgba(245,64,70,0.86)"/><circle cx="175.9" cy="382.3" r="3.1" fill="rgba(245,64,70,0.86)"/><circle cx="182.6" cy="382.3" r="3.1" fill="rgba(245,64,70,0.86)"/><circle cx="189.3" cy="382.3" r="3.1" fill="rgba(245,64,70,0.86)"/><circle cx="196.0" cy="382.3" r="3.1" fill="rgba(245,64,70,0.86)"/><circle cx="202.8" cy="382.3" r="3.1" fill="rgba(245,64,70,0.86)"/><circle cx="209.5" cy="382.3" r="3.1" fill="rgba(245,64,70,0.86)"/><circle cx="216.2" cy="382.3" r="3.1" fill="rgba(245,64,70,0.86)"/><circle cx="223.0" cy="382.3" r="3.1" fill="rgba(245,64,70,0.86)"/><circle cx="229.7" cy="382.3" r="3.1" fill="rgba(245,64,70,0.86)"/><circle cx="236.4" cy="382.3" r="3.1" fill="rgba(245,64,70,0.86)"/><circle cx="243.2" cy="382.3" r="3.1" fill="rgba(245,64,70,0.86)"/><circle cx="249.9" cy="382.3" r="3.1" fill="rgba(245,64,70,0.86)"/><circle cx="256.6" cy="382.3" r="3.1" fill="rgba(245,64,70,0.86)"/><circle cx="263.3" cy="382.3" r="3.1" fill="rgba(245,64,70,0.86)"/><circle cx="270.1" cy="382.3" r="3.1" fill="rgba(245,64,70,0.86)"/><circle cx="276.8" cy="382.3" r="3.1" fill="rgba(245,64,70,0.86)"/><circle cx="283.5" cy="382.3" r="3.1" fill="rgba(245,64,70,0.86)"/><circle cx="290.3" cy="382.3" r="3.1" fill="rgba(245,64,70,0.86)"/><circle cx="297.0" cy="382.3" r="3.1" fill="rgba(245,64,70,0.86)"/><circle cx="303.7" cy="382.3" r="3.1" fill="rgba(245,64,70,0.86)"/><circle cx="310.5" cy="382.3" r="3.1" fill="rgba(245,64,70,0.86)"/><circle cx="317.2" cy="382.3" r="3.1" fill="rgba(245,64,70,0.86)"/>
<circle cx="74.9" cy="385.3" r="3.1" fill="rgba(245,64,70,0.86)"/><circle cx="81.6" cy="385.3" r="3.1" fill="rgba(245,64,70,0.86)"/><circle cx="88.4" cy="385.3" r="3.1" fill="rgba(245,64,70,0.86)"/><circle cx="95.1" cy="385.3" r="3.1" fill="rgba(245,64,70,0.86)"/><circle cx="101.8" cy="385.3" r="3.1" fill="rgba(245,64,70,0.86)"/><circle cx="108.6" cy="385.3" r="3.1" fill="rgba(245,64,70,0.86)"/><circle cx="115.3" cy="385.3" r="3.1" fill="rgba(245,64,70,0.86)"/><circle cx="122.0" cy="385.3" r="3.1" fill="rgba(245,64,70,0.86)"/><circle cx="128.7" cy="385.3" r="3.1" fill="rgba(245,64,70,0.86)"/><circle cx="135.5" cy="385.3" r="3.1" fill="rgba(245,64,70,0.86)"/><circle cx="142.2" cy="385.3" r="3.1" fill="rgba(245,64,70,0.86)"/><circle cx="148.9" cy="385.3" r="3.1" fill="rgba(245,64,70,0.86)"/><circle cx="155.7" cy="385.3" r="3.1" fill="rgba(245,64,70,0.86)"/><circle cx="162.4" cy="385.3" r="3.1" fill="rgba(245,64,70,0.86)"/><circle cx="169.1" cy="385.3" r="3.1" fill="rgba(245,64,70,0.86)"/><circle cx="175.9" cy="385.3" r="3.1" fill="rgba(245,64,70,0.86)"/><circle cx="182.6" cy="385.3" r="3.1" fill="rgba(245,64,70,0.86)"/><circle cx="189.3" cy="385.3" r="3.1" fill="rgba(245,64,70,0.86)"/><circle cx="196.0" cy="385.3" r="3.1" fill="rgba(245,64,70,0.86)"/><circle cx="202.8" cy="385.3" r="3.1" fill="rgba(245,64,70,0.86)"/><circle cx="209.5" cy="385.3" r="3.1" fill="rgba(245,64,70,0.86)"/><circle cx="216.2" cy="385.3" r="3.1" fill="rgba(245,64,70,0.86)"/><circle cx="223.0" cy="385.3" r="3.1" fill="rgba(245,64,70,0.86)"/><circle cx="229.7" cy="385.3" r="3.1" fill="rgba(245,64,70,0.86)"/><circle cx="236.4" cy="385.3" r="3.1" fill="rgba(245,64,70,0.86)"/><circle cx="243.2" cy="385.3" r="3.1" fill="rgba(245,64,70,0.86)"/><circle cx="249.9" cy="385.3" r="3.1" fill="rgba(245,64,70,0.86)"/><circle cx="256.6" cy="385.3" r="3.1" fill="rgba(245,64,70,0.86)"/><circle cx="263.3" cy="385.3" r="3.1" fill="rgba(245,64,70,0.86)"/><circle cx="270.1" cy="385.3" r="3.1" fill="rgba(245,64,70,0.86)"/><circle cx="276.8" cy="385.3" r="3.1" fill="rgba(245,64,70,0.86)"/><circle cx="283.5" cy="385.3" r="3.1" fill="rgba(245,64,70,0.86)"/><circle cx="290.3" cy="385.3" r="3.1" fill="rgba(245,64,70,0.86)"/><circle cx="297.0" cy="385.3" r="3.1" fill="rgba(245,64,70,0.86)"/><circle cx="303.7" cy="385.3" r="3.1" fill="rgba(245,64,70,0.86)"/><circle cx="310.5" cy="385.3" r="3.1" fill="rgba(245,64,70,0.86)"/><circle cx="317.2" cy="385.3" r="3.1" fill="rgba(245,64,70,0.86)"/>
<circle cx="74.9" cy="405.5" r="3.3" fill="rgba(245,64,70,0.86)"/><circle cx="81.6" cy="404.2" r="3.3" fill="rgba(245,64,70,0.86)"/><circle cx="88.4" cy="403.0" r="3.3" fill="rgba(245,64,70,0.86)"/><circle cx="95.1" cy="401.5" r="3.3" fill="rgba(245,64,70,0.86)"/><circle cx="101.8" cy="399.7" r="3.3" fill="rgba(245,64,70,0.86)"/><circle cx="108.6" cy="397.7" r="3.3" fill="rgba(245,64,70,0.86)"/><circle cx="115.3" cy="395.7" r="3.3" fill="rgba(245,64,70,0.86)"/><circle cx="122.0" cy="393.9" r="3.3" fill="rgba(245,64,70,0.86)"/><circle cx="128.7" cy="392.1" r="3.3" fill="rgba(245,64,70,0.86)"/><circle cx="135.5" cy="390.4" r="3.3" fill="rgba(245,64,70,0.86)"/><circle cx="142.2" cy="388.8" r="3.3" fill="rgba(245,64,70,0.86)"/><circle cx="148.9" cy="387.5" r="3.3" fill="rgba(245,64,70,0.86)"/><circle cx="155.7" cy="386.4" r="3.3" fill="rgba(245,64,70,0.86)"/><circle cx="162.4" cy="385.5" r="3.3" fill="rgba(245,64,70,0.86)"/><circle cx="169.1" cy="384.8" r="3.3" fill="rgba(245,64,70,0.86)"/><circle cx="175.9" cy="384.3" r="3.3" fill="rgba(245,64,70,0.86)"/><circle cx="182.6" cy="384.0" r="3.3" fill="rgba(245,64,70,0.86)"/><circle cx="189.3" cy="383.9" r="3.3" fill="rgba(245,64,70,0.86)"/><circle cx="196.0" cy="383.9" r="3.3" fill="rgba(245,64,70,0.86)"/><circle cx="202.8" cy="383.9" r="3.3" fill="rgba(245,64,70,0.86)"/><circle cx="209.5" cy="384.0" r="3.3" fill="rgba(245,64,70,0.86)"/><circle cx="216.2" cy="384.0" r="3.3" fill="rgba(245,64,70,0.86)"/><circle cx="223.0" cy="384.2" r="3.3" fill="rgba(245,64,70,0.86)"/><circle cx="229.7" cy="384.3" r="3.3" fill="rgba(245,64,70,0.86)"/><circle cx="236.4" cy="384.5" r="3.3" fill="rgba(245,64,70,0.86)"/><circle cx="243.2" cy="385.1" r="3.3" fill="rgba(245,64,70,0.86)"/><circle cx="249.9" cy="386.0" r="3.3" fill="rgba(245,64,70,0.86)"/><circle cx="256.6" cy="387.1" r="3.3" fill="rgba(245,64,70,0.86)"/><circle cx="263.3" cy="388.5" r="3.3" fill="rgba(245,64,70,0.86)"/><circle cx="270.1" cy="390.2" r="3.3" fill="rgba(245,64,70,0.86)"/><circle cx="276.8" cy="392.3" r="3.3" fill="rgba(245,64,70,0.86)"/><circle cx="283.5" cy="395.2" r="3.3" fill="rgba(245,64,70,0.86)"/><circle cx="290.3" cy="397.8" r="3.3" fill="rgba(245,64,70,0.86)"/><circle cx="297.0" cy="400.8" r="3.3" fill="rgba(245,64,70,0.86)"/><circle cx="303.7" cy="403.0" r="3.3" fill="rgba(245,64,70,0.86)"/><circle cx="310.5" cy="404.9" r="3.3" fill="rgba(245,64,70,0.86)"/><circle cx="317.2" cy="406.0" r="3.3" fill="rgba(245,64,70,0.86)"/>
<circle cx="74.9" cy="408.4" r="3.3" fill="rgba(245,64,70,0.86)"/><circle cx="81.6" cy="407.2" r="3.3" fill="rgba(245,64,70,0.86)"/><circle cx="88.4" cy="405.9" r="3.3" fill="rgba(245,64,70,0.86)"/><circle cx="95.1" cy="404.4" r="3.3" fill="rgba(245,64,70,0.86)"/><circle cx="101.8" cy="402.7" r="3.3" fill="rgba(245,64,70,0.86)"/><circle cx="108.6" cy="400.8" r="3.3" fill="rgba(245,64,70,0.86)"/><circle cx="115.3" cy="398.9" r="3.3" fill="rgba(245,64,70,0.86)"/><circle cx="122.0" cy="397.0" r="3.3" fill="rgba(245,64,70,0.86)"/><circle cx="128.7" cy="395.1" r="3.3" fill="rgba(245,64,70,0.86)"/><circle cx="135.5" cy="393.1" r="3.3" fill="rgba(245,64,70,0.86)"/><circle cx="142.2" cy="391.2" r="3.3" fill="rgba(245,64,70,0.86)"/><circle cx="148.9" cy="389.6" r="3.3" fill="rgba(245,64,70,0.86)"/><circle cx="155.7" cy="388.5" r="3.3" fill="rgba(245,64,70,0.86)"/><circle cx="162.4" cy="387.6" r="3.3" fill="rgba(245,64,70,0.86)"/><circle cx="169.1" cy="386.6" r="3.3" fill="rgba(245,64,70,0.86)"/><circle cx="175.9" cy="385.3" r="3.3" fill="rgba(245,64,70,0.86)"/><circle cx="182.6" cy="384.6" r="3.3" fill="rgba(245,64,70,0.86)"/><circle cx="189.3" cy="384.8" r="3.3" fill="rgba(245,64,70,0.86)"/><circle cx="196.0" cy="385.2" r="3.3" fill="rgba(245,64,70,0.86)"/><circle cx="202.8" cy="385.4" r="3.3" fill="rgba(245,64,70,0.86)"/><circle cx="209.5" cy="385.6" r="3.3" fill="rgba(245,64,70,0.86)"/><circle cx="216.2" cy="385.8" r="3.3" fill="rgba(245,64,70,0.86)"/><circle cx="223.0" cy="386.0" r="3.3" fill="rgba(245,64,70,0.86)"/><circle cx="229.7" cy="386.3" r="3.3" fill="rgba(245,64,70,0.86)"/><circle cx="236.4" cy="386.8" r="3.3" fill="rgba(245,64,70,0.86)"/><circle cx="243.2" cy="387.7" r="3.3" fill="rgba(245,64,70,0.86)"/><circle cx="249.9" cy="388.9" r="3.3" fill="rgba(245,64,70,0.86)"/><circle cx="256.6" cy="390.1" r="3.3" fill="rgba(245,64,70,0.86)"/><circle cx="263.3" cy="391.4" r="3.3" fill="rgba(245,64,70,0.86)"/><circle cx="270.1" cy="393.0" r="3.3" fill="rgba(245,64,70,0.86)"/><circle cx="276.8" cy="395.6" r="3.3" fill="rgba(245,64,70,0.86)"/><circle cx="283.5" cy="398.5" r="3.3" fill="rgba(245,64,70,0.86)"/><circle cx="290.3" cy="401.1" r="3.3" fill="rgba(245,64,70,0.86)"/><circle cx="297.0" cy="404.1" r="3.3" fill="rgba(245,64,70,0.86)"/><circle cx="303.7" cy="406.2" r="3.3" fill="rgba(245,64,70,0.86)"/><circle cx="310.5" cy="407.9" r="3.3" fill="rgba(245,64,70,0.86)"/><circle cx="317.2" cy="408.9" r="3.3" fill="rgba(245,64,70,0.86)"/>
<circle cx="74.9" cy="411.2" r="3.3" fill="rgba(245,64,70,0.86)"/><circle cx="81.6" cy="410.1" r="3.3" fill="rgba(245,64,70,0.86)"/><circle cx="88.4" cy="408.8" r="3.3" fill="rgba(245,64,70,0.86)"/><circle cx="95.1" cy="407.4" r="3.3" fill="rgba(245,64,70,0.86)"/><circle cx="101.8" cy="405.7" r="3.3" fill="rgba(245,64,70,0.86)"/><circle cx="108.6" cy="403.9" r="3.3" fill="rgba(245,64,70,0.86)"/><circle cx="115.3" cy="402.0" r="3.3" fill="rgba(245,64,70,0.86)"/><circle cx="122.0" cy="400.1" r="3.3" fill="rgba(245,64,70,0.86)"/><circle cx="128.7" cy="398.1" r="3.3" fill="rgba(245,64,70,0.86)"/><circle cx="135.5" cy="395.9" r="3.3" fill="rgba(245,64,70,0.86)"/><circle cx="142.2" cy="393.6" r="3.3" fill="rgba(245,64,70,0.86)"/><circle cx="148.9" cy="391.8" r="3.3" fill="rgba(245,64,70,0.86)"/><circle cx="155.7" cy="390.7" r="3.3" fill="rgba(245,64,70,0.86)"/><circle cx="162.4" cy="389.8" r="3.3" fill="rgba(245,64,70,0.86)"/><circle cx="169.1" cy="388.4" r="3.3" fill="rgba(245,64,70,0.86)"/><circle cx="175.9" cy="386.4" r="3.3" fill="rgba(245,64,70,0.86)"/><circle cx="182.6" cy="385.2" r="3.3" fill="rgba(245,64,70,0.86)"/><circle cx="189.3" cy="385.7" r="3.3" fill="rgba(245,64,70,0.86)"/><circle cx="196.0" cy="386.5" r="3.3" fill="rgba(245,64,70,0.86)"/><circle cx="202.8" cy="386.9" r="3.3" fill="rgba(245,64,70,0.86)"/><circle cx="209.5" cy="387.2" r="3.3" fill="rgba(245,64,70,0.86)"/><circle cx="216.2" cy="387.5" r="3.3" fill="rgba(245,64,70,0.86)"/><circle cx="223.0" cy="387.8" r="3.3" fill="rgba(245,64,70,0.86)"/><circle cx="229.7" cy="388.3" r="3.3" fill="rgba(245,64,70,0.86)"/><circle cx="236.4" cy="389.0" r="3.3" fill="rgba(245,64,70,0.86)"/><circle cx="243.2" cy="390.3" r="3.3" fill="rgba(245,64,70,0.86)"/><circle cx="249.9" cy="391.9" r="3.3" fill="rgba(245,64,70,0.86)"/><circle cx="256.6" cy="393.0" r="3.3" fill="rgba(245,64,70,0.86)"/><circle cx="263.3" cy="394.2" r="3.3" fill="rgba(245,64,70,0.86)"/><circle cx="270.1" cy="395.7" r="3.3" fill="rgba(245,64,70,0.86)"/><circle cx="276.8" cy="398.8" r="3.3" fill="rgba(245,64,70,0.86)"/><circle cx="283.5" cy="401.8" r="3.3" fill="rgba(245,64,70,0.86)"/><circle cx="290.3" cy="404.5" r="3.3" fill="rgba(245,64,70,0.86)"/><circle cx="297.0" cy="407.3" r="3.3" fill="rgba(245,64,70,0.86)"/><circle cx="303.7" cy="409.4" r="3.3" fill="rgba(245,64,70,0.86)"/><circle cx="310.5" cy="411.0" r="3.3" fill="rgba(245,64,70,0.86)"/><circle cx="317.2" cy="411.8" r="3.3" fill="rgba(245,64,70,0.86)"/>
<circle cx="74.9" cy="414.1" r="3.3" fill="rgba(245,64,70,0.86)"/><circle cx="81.6" cy="413.0" r="3.3" fill="rgba(245,64,70,0.86)"/><circle cx="88.4" cy="411.8" r="3.3" fill="rgba(245,64,70,0.86)"/><circle cx="95.1" cy="410.3" r="3.3" fill="rgba(245,64,70,0.86)"/><circle cx="101.8" cy="408.7" r="3.3" fill="rgba(245,64,70,0.86)"/><circle cx="108.6" cy="407.0" r="3.3" fill="rgba(245,64,70,0.86)"/><circle cx="115.3" cy="405.2" r="3.3" fill="rgba(245,64,70,0.86)"/><circle cx="122.0" cy="403.3" r="3.3" fill="rgba(245,64,70,0.86)"/><circle cx="128.7" cy="401.2" r="3.3" fill="rgba(245,64,70,0.86)"/><circle cx="135.5" cy="398.6" r="3.3" fill="rgba(245,64,70,0.86)"/><circle cx="142.2" cy="396.0" r="3.3" fill="rgba(245,64,70,0.86)"/><circle cx="148.9" cy="394.0" r="3.3" fill="rgba(245,64,70,0.86)"/><circle cx="155.7" cy="392.8" r="3.3" fill="rgba(245,64,70,0.86)"/><circle cx="162.4" cy="391.9" r="3.3" fill="rgba(245,64,70,0.86)"/><circle cx="169.1" cy="390.2" r="3.3" fill="rgba(245,64,70,0.86)"/><circle cx="175.9" cy="387.4" r="3.3" fill="rgba(245,64,70,0.86)"/><circle cx="182.6" cy="385.9" r="3.3" fill="rgba(245,64,70,0.86)"/><circle cx="189.3" cy="386.6" r="3.3" fill="rgba(245,64,70,0.86)"/><circle cx="196.0" cy="387.7" r="3.3" fill="rgba(245,64,70,0.86)"/><circle cx="202.8" cy="388.4" r="3.3" fill="rgba(245,64,70,0.86)"/><circle cx="209.5" cy="388.9" r="3.3" fill="rgba(245,64,70,0.86)"/><circle cx="216.2" cy="389.2" r="3.3" fill="rgba(245,64,70,0.86)"/><circle cx="223.0" cy="389.7" r="3.3" fill="rgba(245,64,70,0.86)"/><circle cx="229.7" cy="390.3" r="3.3" fill="rgba(245,64,70,0.86)"/><circle cx="236.4" cy="391.2" r="3.3" fill="rgba(245,64,70,0.86)"/><circle cx="243.2" cy="392.9" r="3.3" fill="rgba(245,64,70,0.86)"/><circle cx="249.9" cy="394.8" r="3.3" fill="rgba(245,64,70,0.86)"/><circle cx="256.6" cy="396.0" r="3.3" fill="rgba(245,64,70,0.86)"/><circle cx="263.3" cy="397.1" r="3.3" fill="rgba(245,64,70,0.86)"/><circle cx="270.1" cy="398.5" r="3.3" fill="rgba(245,64,70,0.86)"/><circle cx="276.8" cy="402.1" r="3.3" fill="rgba(245,64,70,0.86)"/><circle cx="283.5" cy="405.0" r="3.3" fill="rgba(245,64,70,0.86)"/><circle cx="290.3" cy="407.9" r="3.3" fill="rgba(245,64,70,0.86)"/><circle cx="297.0" cy="410.6" r="3.3" fill="rgba(245,64,70,0.86)"/><circle cx="303.7" cy="412.5" r="3.3" fill="rgba(245,64,70,0.86)"/><circle cx="310.5" cy="414.1" r="3.3" fill="rgba(245,64,70,0.86)"/><circle cx="317.2" cy="414.6" r="3.3" fill="rgba(245,64,70,0.86)"/>
<circle cx="74.9" cy="417.0" r="3.3" fill="rgba(245,64,70,0.86)"/><circle cx="81.6" cy="415.9" r="3.3" fill="rgba(245,64,70,0.86)"/><circle cx="88.4" cy="414.7" r="3.3" fill="rgba(245,64,70,0.86)"/><circle cx="95.1" cy="413.3" r="3.3" fill="rgba(245,64,70,0.86)"/><circle cx="101.8" cy="411.8" r="3.3" fill="rgba(245,64,70,0.86)"/><circle cx="108.6" cy="410.1" r="3.3" fill="rgba(245,64,70,0.86)"/><circle cx="115.3" cy="408.3" r="3.3" fill="rgba(245,64,70,0.86)"/><circle cx="122.0" cy="406.4" r="3.3" fill="rgba(245,64,70,0.86)"/><circle cx="128.7" cy="404.2" r="3.3" fill="rgba(245,64,70,0.86)"/><circle cx="135.5" cy="401.4" r="3.3" fill="rgba(245,64,70,0.86)"/><circle cx="142.2" cy="398.4" r="3.3" fill="rgba(245,64,70,0.86)"/><circle cx="148.9" cy="396.1" r="3.3" fill="rgba(245,64,70,0.86)"/><circle cx="155.7" cy="395.0" r="3.3" fill="rgba(245,64,70,0.86)"/><circle cx="162.4" cy="394.0" r="3.3" fill="rgba(245,64,70,0.86)"/><circle cx="169.1" cy="392.0" r="3.3" fill="rgba(245,64,70,0.86)"/><circle cx="175.9" cy="388.5" r="3.3" fill="rgba(245,64,70,0.86)"/><circle cx="182.6" cy="386.5" r="3.3" fill="rgba(245,64,70,0.86)"/><circle cx="189.3" cy="387.5" r="3.3" fill="rgba(245,64,70,0.86)"/><circle cx="196.0" cy="389.0" r="3.3" fill="rgba(245,64,70,0.86)"/><circle cx="202.8" cy="389.8" r="3.3" fill="rgba(245,64,70,0.86)"/><circle cx="209.5" cy="390.5" r="3.3" fill="rgba(245,64,70,0.86)"/><circle cx="216.2" cy="391.0" r="3.3" fill="rgba(245,64,70,0.86)"/><circle cx="223.0" cy="391.5" r="3.3" fill="rgba(245,64,70,0.86)"/><circle cx="229.7" cy="392.3" r="3.3" fill="rgba(245,64,70,0.86)"/><circle cx="236.4" cy="393.5" r="3.3" fill="rgba(245,64,70,0.86)"/><circle cx="243.2" cy="395.6" r="3.3" fill="rgba(245,64,70,0.86)"/><circle cx="249.9" cy="397.7" r="3.3" fill="rgba(245,64,70,0.86)"/><circle cx="256.6" cy="399.0" r="3.3" fill="rgba(245,64,70,0.86)"/><circle cx="263.3" cy="400.0" r="3.3" fill="rgba(245,64,70,0.86)"/><circle cx="270.1" cy="401.2" r="3.3" fill="rgba(245,64,70,0.86)"/><circle cx="276.8" cy="405.3" r="3.3" fill="rgba(245,64,70,0.86)"/><circle cx="283.5" cy="408.3" r="3.3" fill="rgba(245,64,70,0.86)"/><circle cx="290.3" cy="411.2" r="3.3" fill="rgba(245,64,70,0.86)"/><circle cx="297.0" cy="413.8" r="3.3" fill="rgba(245,64,70,0.86)"/><circle cx="303.7" cy="415.7" r="3.3" fill="rgba(245,64,70,0.86)"/><circle cx="310.5" cy="417.1" r="3.3" fill="rgba(245,64,70,0.86)"/><circle cx="317.2" cy="417.5" r="3.3" fill="rgba(245,64,70,0.86)"/>
<circle cx="128.7" cy="389.2" r="3.6" fill="rgba(140,190,245,0.45)"/><circle cx="135.5" cy="393.9" r="3.6" fill="rgba(140,190,245,0.45)"/><circle cx="236.4" cy="393.5" r="3.6" fill="rgba(140,190,245,0.45)"/><circle cx="243.2" cy="389.4" r="3.6" fill="rgba(140,190,245,0.45)"/>
<circle cx="128.7" cy="392.7" r="3.6" fill="rgba(140,190,245,0.45)"/><circle cx="243.2" cy="392.9" r="3.6" fill="rgba(140,190,245,0.45)"/><circle cx="249.9" cy="388.7" r="3.6" fill="rgba(140,190,245,0.45)"/>
<circle cx="101.8" cy="415.2" r="3.4" fill="rgba(110,170,240,0.80)"/><circle cx="108.6" cy="415.1" r="3.4" fill="rgba(110,170,240,0.80)"/><circle cx="115.3" cy="415.1" r="3.4" fill="rgba(110,170,240,0.80)"/><circle cx="122.0" cy="415.0" r="3.4" fill="rgba(110,170,240,0.80)"/><circle cx="128.7" cy="414.8" r="3.4" fill="rgba(110,170,240,0.80)"/><circle cx="135.5" cy="414.5" r="3.4" fill="rgba(110,170,240,0.80)"/><circle cx="142.2" cy="413.5" r="3.4" fill="rgba(110,170,240,0.80)"/><circle cx="148.9" cy="412.0" r="3.4" fill="rgba(110,170,240,0.80)"/><circle cx="155.7" cy="410.0" r="3.4" fill="rgba(110,170,240,0.80)"/><circle cx="162.4" cy="408.0" r="3.4" fill="rgba(110,170,240,0.80)"/><circle cx="169.1" cy="405.3" r="3.4" fill="rgba(110,170,240,0.80)"/><circle cx="175.9" cy="402.3" r="3.4" fill="rgba(110,170,240,0.80)"/><circle cx="182.6" cy="399.3" r="3.4" fill="rgba(110,170,240,0.80)"/><circle cx="189.3" cy="400.8" r="3.4" fill="rgba(110,170,240,0.80)"/><circle cx="196.0" cy="401.9" r="3.4" fill="rgba(110,170,240,0.80)"/><circle cx="202.8" cy="402.0" r="3.4" fill="rgba(110,170,240,0.80)"/><circle cx="209.5" cy="402.0" r="3.4" fill="rgba(110,170,240,0.80)"/><circle cx="216.2" cy="402.0" r="3.4" fill="rgba(110,170,240,0.80)"/><circle cx="223.0" cy="401.9" r="3.4" fill="rgba(110,170,240,0.80)"/><circle cx="229.7" cy="401.9" r="3.4" fill="rgba(110,170,240,0.80)"/><circle cx="236.4" cy="401.9" r="3.4" fill="rgba(110,170,240,0.80)"/><circle cx="243.2" cy="402.5" r="3.4" fill="rgba(110,170,240,0.80)"/><circle cx="249.9" cy="404.0" r="3.4" fill="rgba(110,170,240,0.80)"/><circle cx="256.6" cy="405.5" r="3.4" fill="rgba(110,170,240,0.80)"/><circle cx="263.3" cy="407.0" r="3.4" fill="rgba(110,170,240,0.80)"/><circle cx="270.1" cy="408.0" r="3.4" fill="rgba(110,170,240,0.80)"/><circle cx="276.8" cy="409.0" r="3.4" fill="rgba(110,170,240,0.80)"/><circle cx="283.5" cy="410.5" r="3.4" fill="rgba(110,170,240,0.80)"/><circle cx="290.3" cy="412.5" r="3.4" fill="rgba(110,170,240,0.80)"/><circle cx="297.0" cy="413.8" r="3.4" fill="rgba(110,170,240,0.80)"/><circle cx="303.7" cy="414.2" r="3.4" fill="rgba(110,170,240,0.80)"/><circle cx="310.5" cy="414.3" r="3.4" fill="rgba(110,170,240,0.80)"/><circle cx="317.2" cy="414.5" r="3.4" fill="rgba(110,170,240,0.80)"/>
<circle cx="101.8" cy="415.2" r="2.3" fill="rgba(222,78,88,0.92)"/><circle cx="108.6" cy="415.1" r="2.3" fill="rgba(222,78,88,0.92)"/><circle cx="115.3" cy="415.1" r="2.3" fill="rgba(222,78,88,0.92)"/><circle cx="122.0" cy="415.0" r="2.3" fill="rgba(222,78,88,0.92)"/><circle cx="128.7" cy="414.8" r="2.3" fill="rgba(222,78,88,0.92)"/><circle cx="135.5" cy="414.5" r="2.3" fill="rgba(222,78,88,0.92)"/><circle cx="142.2" cy="413.5" r="2.3" fill="rgba(222,78,88,0.92)"/><circle cx="148.9" cy="412.0" r="2.3" fill="rgba(222,78,88,0.92)"/><circle cx="155.7" cy="410.0" r="2.3" fill="rgba(222,78,88,0.92)"/><circle cx="162.4" cy="408.0" r="2.3" fill="rgba(222,78,88,0.92)"/><circle cx="169.1" cy="405.3" r="2.3" fill="rgba(222,78,88,0.92)"/><circle cx="175.9" cy="402.3" r="2.3" fill="rgba(222,78,88,0.92)"/><circle cx="182.6" cy="399.3" r="2.3" fill="rgba(222,78,88,0.92)"/><circle cx="189.3" cy="400.8" r="2.3" fill="rgba(222,78,88,0.92)"/><circle cx="196.0" cy="401.9" r="2.3" fill="rgba(222,78,88,0.92)"/><circle cx="202.8" cy="402.0" r="2.3" fill="rgba(222,78,88,0.92)"/><circle cx="209.5" cy="402.0" r="2.3" fill="rgba(222,78,88,0.92)"/><circle cx="216.2" cy="402.0" r="2.3" fill="rgba(222,78,88,0.92)"/><circle cx="223.0" cy="401.9" r="2.3" fill="rgba(222,78,88,0.92)"/><circle cx="229.7" cy="401.9" r="2.3" fill="rgba(222,78,88,0.92)"/><circle cx="236.4" cy="401.9" r="2.3" fill="rgba(222,78,88,0.92)"/><circle cx="243.2" cy="402.5" r="2.3" fill="rgba(222,78,88,0.92)"/><circle cx="249.9" cy="404.0" r="2.3" fill="rgba(222,78,88,0.92)"/><circle cx="256.6" cy="405.5" r="2.3" fill="rgba(222,78,88,0.92)"/><circle cx="263.3" cy="407.0" r="2.3" fill="rgba(222,78,88,0.92)"/><circle cx="270.1" cy="408.0" r="2.3" fill="rgba(222,78,88,0.92)"/><circle cx="276.8" cy="409.0" r="2.3" fill="rgba(222,78,88,0.92)"/><circle cx="283.5" cy="410.5" r="2.3" fill="rgba(222,78,88,0.92)"/><circle cx="290.3" cy="412.5" r="2.3" fill="rgba(222,78,88,0.92)"/><circle cx="297.0" cy="413.8" r="2.3" fill="rgba(222,78,88,0.92)"/><circle cx="303.7" cy="414.2" r="2.3" fill="rgba(222,78,88,0.92)"/><circle cx="310.5" cy="414.3" r="2.3" fill="rgba(222,78,88,0.92)"/><circle cx="317.2" cy="414.5" r="2.3" fill="rgba(222,78,88,0.92)"/>
<circle cx="148.9" cy="395.5" r="3.4" fill="rgba(110,170,240,0.80)"/><circle cx="155.7" cy="395.3" r="3.4" fill="rgba(110,170,240,0.80)"/><circle cx="162.4" cy="396.0" r="3.4" fill="rgba(110,170,240,0.80)"/><circle cx="169.1" cy="396.5" r="3.4" fill="rgba(110,170,240,0.80)"/><circle cx="175.9" cy="397.5" r="3.4" fill="rgba(110,170,240,0.80)"/><circle cx="182.6" cy="399.3" r="3.4" fill="rgba(110,170,240,0.80)"/><circle cx="189.3" cy="396.5" r="3.4" fill="rgba(110,170,240,0.80)"/><circle cx="196.0" cy="395.5" r="3.4" fill="rgba(110,170,240,0.80)"/>
<circle cx="148.9" cy="395.5" r="2.3" fill="rgba(222,78,88,0.92)"/><circle cx="155.7" cy="395.3" r="2.3" fill="rgba(222,78,88,0.92)"/><circle cx="162.4" cy="396.0" r="2.3" fill="rgba(222,78,88,0.92)"/><circle cx="169.1" cy="396.5" r="2.3" fill="rgba(222,78,88,0.92)"/><circle cx="175.9" cy="397.5" r="2.3" fill="rgba(222,78,88,0.92)"/><circle cx="182.6" cy="399.3" r="2.3" fill="rgba(222,78,88,0.92)"/><circle cx="189.3" cy="396.5" r="2.3" fill="rgba(222,78,88,0.92)"/><circle cx="196.0" cy="395.5" r="2.3" fill="rgba(222,78,88,0.92)"/>
<circle cx="249.9" cy="406.0" r="3.4" fill="rgba(110,170,240,0.80)"/><circle cx="256.6" cy="409.0" r="3.4" fill="rgba(110,170,240,0.80)"/><circle cx="263.3" cy="411.5" r="3.4" fill="rgba(110,170,240,0.80)"/><circle cx="270.1" cy="412.5" r="3.4" fill="rgba(110,170,240,0.80)"/><circle cx="276.8" cy="414.0" r="3.4" fill="rgba(110,170,240,0.80)"/><circle cx="283.5" cy="414.3" r="3.4" fill="rgba(110,170,240,0.80)"/>
<circle cx="249.9" cy="406.0" r="2.3" fill="rgba(222,78,88,0.92)"/><circle cx="256.6" cy="409.0" r="2.3" fill="rgba(222,78,88,0.92)"/><circle cx="263.3" cy="411.5" r="2.3" fill="rgba(222,78,88,0.92)"/><circle cx="270.1" cy="412.5" r="2.3" fill="rgba(222,78,88,0.92)"/><circle cx="276.8" cy="414.0" r="2.3" fill="rgba(222,78,88,0.92)"/><circle cx="283.5" cy="414.3" r="2.3" fill="rgba(222,78,88,0.92)"/>
<circle cx="128.7" cy="586.8" r="3.8" fill="rgba(118,176,244,0.66)"/><circle cx="135.5" cy="582.0" r="3.8" fill="rgba(118,176,244,0.66)"/><circle cx="142.2" cy="577.5" r="3.8" fill="rgba(118,176,244,0.66)"/><circle cx="148.9" cy="573.4" r="3.8" fill="rgba(118,176,244,0.66)"/><circle cx="155.7" cy="568.5" r="3.8" fill="rgba(118,176,244,0.66)"/><circle cx="162.4" cy="565.0" r="3.8" fill="rgba(118,176,244,0.66)"/><circle cx="169.1" cy="562.8" r="3.8" fill="rgba(118,176,244,0.66)"/><circle cx="175.9" cy="561.8" r="3.8" fill="rgba(118,176,244,0.66)"/><circle cx="182.6" cy="561.5" r="3.8" fill="rgba(118,176,244,0.66)"/><circle cx="189.3" cy="561.8" r="3.8" fill="rgba(118,176,244,0.66)"/><circle cx="196.0" cy="563.0" r="3.8" fill="rgba(118,176,244,0.66)"/><circle cx="202.8" cy="566.0" r="3.8" fill="rgba(118,176,244,0.66)"/><circle cx="209.5" cy="570.0" r="3.8" fill="rgba(118,176,244,0.66)"/><circle cx="216.2" cy="575.0" r="3.8" fill="rgba(118,176,244,0.66)"/><circle cx="223.0" cy="580.0" r="3.8" fill="rgba(118,176,244,0.66)"/><circle cx="229.7" cy="584.0" r="3.8" fill="rgba(118,176,244,0.66)"/><circle cx="236.4" cy="588.0" r="3.8" fill="rgba(118,176,244,0.66)"/><circle cx="243.2" cy="592.0" r="3.8" fill="rgba(118,176,244,0.66)"/>
<circle cx="142.2" cy="617.0" r="3.8" fill="rgba(118,176,244,0.66)"/><circle cx="148.9" cy="615.1" r="3.8" fill="rgba(118,176,244,0.66)"/><circle cx="155.7" cy="613.0" r="3.8" fill="rgba(118,176,244,0.66)"/><circle cx="162.4" cy="610.2" r="3.8" fill="rgba(118,176,244,0.66)"/><circle cx="169.1" cy="607.0" r="3.8" fill="rgba(118,176,244,0.66)"/><circle cx="175.9" cy="603.5" r="3.8" fill="rgba(118,176,244,0.66)"/><circle cx="182.6" cy="602.0" r="3.8" fill="rgba(118,176,244,0.66)"/><circle cx="189.3" cy="602.5" r="3.8" fill="rgba(118,176,244,0.66)"/><circle cx="196.0" cy="604.0" r="3.8" fill="rgba(118,176,244,0.66)"/><circle cx="202.8" cy="606.4" r="3.8" fill="rgba(118,176,244,0.66)"/><circle cx="209.5" cy="609.0" r="3.8" fill="rgba(118,176,244,0.66)"/><circle cx="216.2" cy="611.3" r="3.8" fill="rgba(118,176,244,0.66)"/><circle cx="223.0" cy="613.5" r="3.8" fill="rgba(118,176,244,0.66)"/><circle cx="229.7" cy="615.3" r="3.8" fill="rgba(118,176,244,0.66)"/><circle cx="236.4" cy="617.0" r="3.8" fill="rgba(118,176,244,0.66)"/>
<circle cx="162.4" cy="619.0" r="3.8" fill="rgba(118,176,244,0.66)"/><circle cx="169.1" cy="616.9" r="3.8" fill="rgba(118,176,244,0.66)"/><circle cx="175.9" cy="615.0" r="3.8" fill="rgba(118,176,244,0.66)"/><circle cx="182.6" cy="614.0" r="3.8" fill="rgba(118,176,244,0.66)"/><circle cx="189.3" cy="614.5" r="3.8" fill="rgba(118,176,244,0.66)"/><circle cx="196.0" cy="615.7" r="3.8" fill="rgba(118,176,244,0.66)"/><circle cx="202.8" cy="617.0" r="3.8" fill="rgba(118,176,244,0.66)"/><circle cx="209.5" cy="618.0" r="3.8" fill="rgba(118,176,244,0.66)"/><circle cx="216.2" cy="619.0" r="3.8" fill="rgba(118,176,244,0.66)"/>
<circle cx="74.9" cy="541.3" r="3.3" fill="rgba(245,64,70,0.86)"/><circle cx="81.6" cy="541.8" r="3.3" fill="rgba(245,64,70,0.86)"/><circle cx="88.4" cy="542.2" r="3.3" fill="rgba(245,64,70,0.86)"/><circle cx="95.1" cy="542.8" r="3.3" fill="rgba(245,64,70,0.86)"/><circle cx="101.8" cy="543.5" r="3.3" fill="rgba(245,64,70,0.86)"/><circle cx="108.6" cy="544.4" r="3.3" fill="rgba(245,64,70,0.86)"/><circle cx="115.3" cy="545.5" r="3.3" fill="rgba(245,64,70,0.86)"/><circle cx="122.0" cy="546.8" r="3.3" fill="rgba(245,64,70,0.86)"/><circle cx="128.7" cy="548.4" r="3.3" fill="rgba(245,64,70,0.86)"/><circle cx="135.5" cy="552.7" r="3.3" fill="rgba(245,64,70,0.86)"/><circle cx="142.2" cy="554.8" r="3.3" fill="rgba(245,64,70,0.86)"/><circle cx="148.9" cy="557.7" r="3.3" fill="rgba(245,64,70,0.86)"/><circle cx="155.7" cy="561.2" r="3.3" fill="rgba(245,64,70,0.86)"/><circle cx="162.4" cy="564.8" r="3.3" fill="rgba(245,64,70,0.86)"/><circle cx="169.1" cy="569.0" r="3.3" fill="rgba(245,64,70,0.86)"/><circle cx="175.9" cy="573.3" r="3.3" fill="rgba(245,64,70,0.86)"/><circle cx="182.6" cy="576.8" r="3.3" fill="rgba(245,64,70,0.86)"/><circle cx="189.3" cy="575.3" r="3.3" fill="rgba(245,64,70,0.86)"/><circle cx="196.0" cy="573.0" r="3.3" fill="rgba(245,64,70,0.86)"/><circle cx="202.8" cy="571.4" r="3.3" fill="rgba(245,64,70,0.86)"/><circle cx="209.5" cy="570.0" r="3.3" fill="rgba(245,64,70,0.86)"/><circle cx="216.2" cy="569.2" r="3.3" fill="rgba(245,64,70,0.86)"/><circle cx="223.0" cy="568.5" r="3.3" fill="rgba(245,64,70,0.86)"/><circle cx="229.7" cy="567.1" r="3.3" fill="rgba(245,64,70,0.86)"/><circle cx="236.4" cy="565.5" r="3.3" fill="rgba(245,64,70,0.86)"/><circle cx="243.2" cy="563.6" r="3.3" fill="rgba(245,64,70,0.86)"/><circle cx="249.9" cy="560.9" r="3.3" fill="rgba(245,64,70,0.86)"/><circle cx="256.6" cy="558.0" r="3.3" fill="rgba(245,64,70,0.86)"/><circle cx="263.3" cy="555.0" r="3.3" fill="rgba(245,64,70,0.86)"/><circle cx="270.1" cy="552.0" r="3.3" fill="rgba(245,64,70,0.86)"/><circle cx="276.8" cy="549.5" r="3.3" fill="rgba(245,64,70,0.86)"/><circle cx="283.5" cy="547.5" r="3.3" fill="rgba(245,64,70,0.86)"/><circle cx="290.3" cy="546.0" r="3.3" fill="rgba(245,64,70,0.86)"/><circle cx="297.0" cy="544.5" r="3.3" fill="rgba(245,64,70,0.86)"/><circle cx="303.7" cy="543.0" r="3.3" fill="rgba(245,64,70,0.86)"/><circle cx="310.5" cy="542.2" r="3.3" fill="rgba(245,64,70,0.86)"/><circle cx="317.2" cy="541.5" r="3.3" fill="rgba(245,64,70,0.86)"/>
<circle cx="74.9" cy="542.8" r="3.3" fill="rgba(245,64,70,0.86)"/><circle cx="81.6" cy="543.5" r="3.3" fill="rgba(245,64,70,0.86)"/><circle cx="88.4" cy="544.0" r="3.3" fill="rgba(245,64,70,0.86)"/><circle cx="95.1" cy="544.8" r="3.3" fill="rgba(245,64,70,0.86)"/><circle cx="101.8" cy="546.0" r="3.3" fill="rgba(245,64,70,0.86)"/><circle cx="108.6" cy="547.8" r="3.3" fill="rgba(245,64,70,0.86)"/><circle cx="115.3" cy="550.1" r="3.3" fill="rgba(245,64,70,0.86)"/><circle cx="122.0" cy="552.7" r="3.3" fill="rgba(245,64,70,0.86)"/><circle cx="128.7" cy="555.5" r="3.3" fill="rgba(245,64,70,0.86)"/><circle cx="135.5" cy="560.5" r="3.3" fill="rgba(245,64,70,0.86)"/><circle cx="142.2" cy="564.0" r="3.3" fill="rgba(245,64,70,0.86)"/><circle cx="148.9" cy="567.6" r="3.3" fill="rgba(245,64,70,0.86)"/><circle cx="155.7" cy="570.4" r="3.3" fill="rgba(245,64,70,0.86)"/><circle cx="162.4" cy="573.1" r="3.3" fill="rgba(245,64,70,0.86)"/><circle cx="169.1" cy="576.0" r="3.3" fill="rgba(245,64,70,0.86)"/><circle cx="175.9" cy="578.4" r="3.3" fill="rgba(245,64,70,0.86)"/><circle cx="182.6" cy="579.6" r="3.3" fill="rgba(245,64,70,0.86)"/><circle cx="189.3" cy="579.3" r="3.3" fill="rgba(245,64,70,0.86)"/><circle cx="196.0" cy="577.8" r="3.3" fill="rgba(245,64,70,0.86)"/><circle cx="202.8" cy="575.8" r="3.3" fill="rgba(245,64,70,0.86)"/><circle cx="209.5" cy="574.0" r="3.3" fill="rgba(245,64,70,0.86)"/><circle cx="216.2" cy="572.6" r="3.3" fill="rgba(245,64,70,0.86)"/><circle cx="223.0" cy="571.1" r="3.3" fill="rgba(245,64,70,0.86)"/><circle cx="229.7" cy="569.6" r="3.3" fill="rgba(245,64,70,0.86)"/><circle cx="236.4" cy="568.0" r="3.3" fill="rgba(245,64,70,0.86)"/><circle cx="243.2" cy="566.1" r="3.3" fill="rgba(245,64,70,0.86)"/><circle cx="249.9" cy="564.0" r="3.3" fill="rgba(245,64,70,0.86)"/><circle cx="256.6" cy="562.0" r="3.3" fill="rgba(245,64,70,0.86)"/><circle cx="263.3" cy="560.0" r="3.3" fill="rgba(245,64,70,0.86)"/><circle cx="270.1" cy="558.2" r="3.3" fill="rgba(245,64,70,0.86)"/><circle cx="276.8" cy="556.5" r="3.3" fill="rgba(245,64,70,0.86)"/><circle cx="283.5" cy="555.0" r="3.3" fill="rgba(245,64,70,0.86)"/><circle cx="290.3" cy="551.0" r="3.3" fill="rgba(245,64,70,0.86)"/><circle cx="297.0" cy="548.0" r="3.3" fill="rgba(245,64,70,0.86)"/><circle cx="303.7" cy="545.0" r="3.3" fill="rgba(245,64,70,0.86)"/><circle cx="310.5" cy="543.6" r="3.3" fill="rgba(245,64,70,0.86)"/><circle cx="317.2" cy="542.5" r="3.3" fill="rgba(245,64,70,0.86)"/>
<circle cx="74.9" cy="559.4" r="3.3" fill="rgba(245,64,70,0.86)"/><circle cx="81.6" cy="561.4" r="3.3" fill="rgba(245,64,70,0.86)"/><circle cx="88.4" cy="562.4" r="3.3" fill="rgba(245,64,70,0.86)"/><circle cx="95.1" cy="563.8" r="3.3" fill="rgba(245,64,70,0.86)"/><circle cx="101.8" cy="565.3" r="3.3" fill="rgba(245,64,70,0.86)"/><circle cx="108.6" cy="567.7" r="3.3" fill="rgba(245,64,70,0.86)"/><circle cx="115.3" cy="569.6" r="3.3" fill="rgba(245,64,70,0.86)"/><circle cx="122.0" cy="571.0" r="3.3" fill="rgba(245,64,70,0.86)"/><circle cx="128.7" cy="572.4" r="3.3" fill="rgba(245,64,70,0.86)"/><circle cx="135.5" cy="574.8" r="3.3" fill="rgba(245,64,70,0.86)"/><circle cx="142.2" cy="577.2" r="3.3" fill="rgba(245,64,70,0.86)"/><circle cx="148.9" cy="578.7" r="3.3" fill="rgba(245,64,70,0.86)"/><circle cx="155.7" cy="580.4" r="3.3" fill="rgba(245,64,70,0.86)"/><circle cx="162.4" cy="580.8" r="3.3" fill="rgba(245,64,70,0.86)"/><circle cx="169.1" cy="581.0" r="3.3" fill="rgba(245,64,70,0.86)"/><circle cx="175.9" cy="581.0" r="3.3" fill="rgba(245,64,70,0.86)"/><circle cx="182.6" cy="581.0" r="3.3" fill="rgba(245,64,70,0.86)"/><circle cx="189.3" cy="581.0" r="3.3" fill="rgba(245,64,70,0.86)"/><circle cx="196.0" cy="581.0" r="3.3" fill="rgba(245,64,70,0.86)"/><circle cx="202.8" cy="580.8" r="3.3" fill="rgba(245,64,70,0.86)"/><circle cx="209.5" cy="580.0" r="3.3" fill="rgba(245,64,70,0.86)"/><circle cx="216.2" cy="578.4" r="3.3" fill="rgba(245,64,70,0.86)"/><circle cx="223.0" cy="576.2" r="3.3" fill="rgba(245,64,70,0.86)"/><circle cx="229.7" cy="573.9" r="3.3" fill="rgba(245,64,70,0.86)"/><circle cx="236.4" cy="572.0" r="3.3" fill="rgba(245,64,70,0.86)"/><circle cx="243.2" cy="570.7" r="3.3" fill="rgba(245,64,70,0.86)"/><circle cx="249.9" cy="569.8" r="3.3" fill="rgba(245,64,70,0.86)"/><circle cx="256.6" cy="569.0" r="3.3" fill="rgba(245,64,70,0.86)"/><circle cx="263.3" cy="568.3" r="3.3" fill="rgba(245,64,70,0.86)"/><circle cx="270.1" cy="567.8" r="3.3" fill="rgba(245,64,70,0.86)"/><circle cx="276.8" cy="567.0" r="3.3" fill="rgba(245,64,70,0.86)"/><circle cx="283.5" cy="565.6" r="3.3" fill="rgba(245,64,70,0.86)"/><circle cx="290.3" cy="564.0" r="3.3" fill="rgba(245,64,70,0.86)"/><circle cx="297.0" cy="562.4" r="3.3" fill="rgba(245,64,70,0.86)"/><circle cx="303.7" cy="561.0" r="3.3" fill="rgba(245,64,70,0.86)"/><circle cx="310.5" cy="560.1" r="3.3" fill="rgba(245,64,70,0.86)"/><circle cx="317.2" cy="559.4" r="3.3" fill="rgba(245,64,70,0.86)"/>
<circle cx="209.5" cy="582.0" r="3.3" fill="rgba(245,64,70,0.86)"/><circle cx="216.2" cy="580.4" r="3.3" fill="rgba(245,64,70,0.86)"/><circle cx="223.0" cy="578.8" r="3.3" fill="rgba(245,64,70,0.86)"/><circle cx="229.7" cy="577.2" r="3.3" fill="rgba(245,64,70,0.86)"/><circle cx="236.4" cy="576.0" r="3.3" fill="rgba(245,64,70,0.86)"/><circle cx="243.2" cy="575.4" r="3.3" fill="rgba(245,64,70,0.86)"/><circle cx="249.9" cy="575.3" r="3.3" fill="rgba(245,64,70,0.86)"/><circle cx="256.6" cy="575.0" r="3.3" fill="rgba(245,64,70,0.86)"/><circle cx="263.3" cy="574.4" r="3.3" fill="rgba(245,64,70,0.86)"/><circle cx="270.1" cy="573.6" r="3.3" fill="rgba(245,64,70,0.86)"/><circle cx="276.8" cy="572.5" r="3.3" fill="rgba(245,64,70,0.86)"/><circle cx="283.5" cy="570.5" r="3.3" fill="rgba(245,64,70,0.86)"/><circle cx="290.3" cy="568.0" r="3.3" fill="rgba(245,64,70,0.86)"/><circle cx="297.0" cy="565.1" r="3.3" fill="rgba(245,64,70,0.86)"/><circle cx="303.7" cy="562.5" r="3.3" fill="rgba(245,64,70,0.86)"/><circle cx="310.5" cy="561.1" r="3.3" fill="rgba(245,64,70,0.86)"/><circle cx="317.2" cy="560.2" r="3.3" fill="rgba(245,64,70,0.86)"/>
<circle cx="74.9" cy="607.0" r="3.3" fill="rgba(245,64,70,0.86)"/><circle cx="81.6" cy="603.5" r="3.3" fill="rgba(245,64,70,0.86)"/><circle cx="88.4" cy="599.2" r="3.3" fill="rgba(245,64,70,0.86)"/><circle cx="95.1" cy="595.4" r="3.3" fill="rgba(245,64,70,0.86)"/><circle cx="101.8" cy="591.6" r="3.3" fill="rgba(245,64,70,0.86)"/><circle cx="108.6" cy="588.7" r="3.3" fill="rgba(245,64,70,0.86)"/><circle cx="115.3" cy="586.8" r="3.3" fill="rgba(245,64,70,0.86)"/><circle cx="122.0" cy="585.8" r="3.3" fill="rgba(245,64,70,0.86)"/><circle cx="128.7" cy="584.4" r="3.3" fill="rgba(245,64,70,0.86)"/><circle cx="135.5" cy="583.0" r="3.3" fill="rgba(245,64,70,0.86)"/><circle cx="142.2" cy="582.5" r="3.3" fill="rgba(245,64,70,0.86)"/><circle cx="148.9" cy="581.5" r="3.3" fill="rgba(245,64,70,0.86)"/><circle cx="155.7" cy="580.6" r="3.3" fill="rgba(245,64,70,0.86)"/><circle cx="162.4" cy="581.0" r="3.3" fill="rgba(245,64,70,0.86)"/><circle cx="169.1" cy="581.6" r="3.3" fill="rgba(245,64,70,0.86)"/><circle cx="175.9" cy="582.3" r="3.3" fill="rgba(245,64,70,0.86)"/><circle cx="182.6" cy="583.0" r="3.3" fill="rgba(245,64,70,0.86)"/><circle cx="189.3" cy="583.8" r="3.3" fill="rgba(245,64,70,0.86)"/><circle cx="196.0" cy="584.6" r="3.3" fill="rgba(245,64,70,0.86)"/><circle cx="202.8" cy="585.4" r="3.3" fill="rgba(245,64,70,0.86)"/><circle cx="236.4" cy="586.0" r="3.3" fill="rgba(245,64,70,0.86)"/><circle cx="243.2" cy="586.6" r="3.3" fill="rgba(245,64,70,0.86)"/><circle cx="249.9" cy="587.5" r="3.3" fill="rgba(245,64,70,0.86)"/><circle cx="256.6" cy="588.6" r="3.3" fill="rgba(245,64,70,0.86)"/><circle cx="263.3" cy="590.0" r="3.3" fill="rgba(245,64,70,0.86)"/><circle cx="270.1" cy="591.7" r="3.3" fill="rgba(245,64,70,0.86)"/><circle cx="276.8" cy="593.8" r="3.3" fill="rgba(245,64,70,0.86)"/><circle cx="283.5" cy="595.9" r="3.3" fill="rgba(245,64,70,0.86)"/><circle cx="290.3" cy="598.0" r="3.3" fill="rgba(245,64,70,0.86)"/><circle cx="297.0" cy="600.0" r="3.3" fill="rgba(245,64,70,0.86)"/><circle cx="303.7" cy="602.0" r="3.3" fill="rgba(245,64,70,0.86)"/><circle cx="310.5" cy="604.0" r="3.3" fill="rgba(245,64,70,0.86)"/><circle cx="317.2" cy="606.0" r="3.3" fill="rgba(245,64,70,0.86)"/>
<circle cx="74.9" cy="610.5" r="3.3" fill="rgba(245,64,70,0.86)"/><circle cx="81.6" cy="608.8" r="3.3" fill="rgba(245,64,70,0.86)"/><circle cx="88.4" cy="606.9" r="3.3" fill="rgba(245,64,70,0.86)"/><circle cx="95.1" cy="604.0" r="3.3" fill="rgba(245,64,70,0.86)"/><circle cx="101.8" cy="600.7" r="3.3" fill="rgba(245,64,70,0.86)"/><circle cx="108.6" cy="597.8" r="3.3" fill="rgba(245,64,70,0.86)"/><circle cx="115.3" cy="596.4" r="3.3" fill="rgba(245,64,70,0.86)"/><circle cx="122.0" cy="595.0" r="3.3" fill="rgba(245,64,70,0.86)"/><circle cx="128.7" cy="594.0" r="3.3" fill="rgba(245,64,70,0.86)"/><circle cx="135.5" cy="593.4" r="3.3" fill="rgba(245,64,70,0.86)"/><circle cx="142.2" cy="593.0" r="3.3" fill="rgba(245,64,70,0.86)"/><circle cx="148.9" cy="592.7" r="3.3" fill="rgba(245,64,70,0.86)"/><circle cx="155.7" cy="592.5" r="3.3" fill="rgba(245,64,70,0.86)"/><circle cx="162.4" cy="592.5" r="3.3" fill="rgba(245,64,70,0.86)"/><circle cx="169.1" cy="592.6" r="3.3" fill="rgba(245,64,70,0.86)"/><circle cx="175.9" cy="592.8" r="3.3" fill="rgba(245,64,70,0.86)"/><circle cx="182.6" cy="593.0" r="3.3" fill="rgba(245,64,70,0.86)"/><circle cx="189.3" cy="593.3" r="3.3" fill="rgba(245,64,70,0.86)"/><circle cx="196.0" cy="593.8" r="3.3" fill="rgba(245,64,70,0.86)"/><circle cx="202.8" cy="594.2" r="3.3" fill="rgba(245,64,70,0.86)"/><circle cx="209.5" cy="594.5" r="3.3" fill="rgba(245,64,70,0.86)"/><circle cx="216.2" cy="594.7" r="3.3" fill="rgba(245,64,70,0.86)"/><circle cx="223.0" cy="594.7" r="3.3" fill="rgba(245,64,70,0.86)"/><circle cx="229.7" cy="594.8" r="3.3" fill="rgba(245,64,70,0.86)"/><circle cx="236.4" cy="595.0" r="3.3" fill="rgba(245,64,70,0.86)"/><circle cx="243.2" cy="595.3" r="3.3" fill="rgba(245,64,70,0.86)"/><circle cx="249.9" cy="595.7" r="3.3" fill="rgba(245,64,70,0.86)"/><circle cx="256.6" cy="596.2" r="3.3" fill="rgba(245,64,70,0.86)"/><circle cx="263.3" cy="597.0" r="3.3" fill="rgba(245,64,70,0.86)"/><circle cx="270.1" cy="598.2" r="3.3" fill="rgba(245,64,70,0.86)"/><circle cx="276.8" cy="599.7" r="3.3" fill="rgba(245,64,70,0.86)"/><circle cx="283.5" cy="601.4" r="3.3" fill="rgba(245,64,70,0.86)"/><circle cx="290.3" cy="603.0" r="3.3" fill="rgba(245,64,70,0.86)"/><circle cx="297.0" cy="604.6" r="3.3" fill="rgba(245,64,70,0.86)"/><circle cx="303.7" cy="606.2" r="3.3" fill="rgba(245,64,70,0.86)"/><circle cx="310.5" cy="607.9" r="3.3" fill="rgba(245,64,70,0.86)"/><circle cx="317.2" cy="609.5" r="3.3" fill="rgba(245,64,70,0.86)"/>
<circle cx="101.8" cy="600.2" r="3.3" fill="rgba(245,64,70,0.86)"/><circle cx="108.6" cy="600.2" r="3.3" fill="rgba(245,64,70,0.86)"/><circle cx="115.3" cy="600.2" r="3.3" fill="rgba(245,64,70,0.86)"/><circle cx="122.0" cy="600.2" r="3.3" fill="rgba(245,64,70,0.86)"/><circle cx="128.7" cy="600.0" r="3.3" fill="rgba(245,64,70,0.86)"/><circle cx="135.5" cy="599.6" r="3.3" fill="rgba(245,64,70,0.86)"/><circle cx="142.2" cy="599.1" r="3.3" fill="rgba(245,64,70,0.86)"/><circle cx="148.9" cy="598.5" r="3.3" fill="rgba(245,64,70,0.86)"/><circle cx="155.7" cy="598.0" r="3.3" fill="rgba(245,64,70,0.86)"/><circle cx="162.4" cy="597.5" r="3.3" fill="rgba(245,64,70,0.86)"/><circle cx="169.1" cy="597.1" r="3.3" fill="rgba(245,64,70,0.86)"/><circle cx="175.9" cy="596.7" r="3.3" fill="rgba(245,64,70,0.86)"/><circle cx="182.6" cy="596.5" r="3.3" fill="rgba(245,64,70,0.86)"/><circle cx="189.3" cy="596.4" r="3.3" fill="rgba(245,64,70,0.86)"/><circle cx="196.0" cy="596.5" r="3.3" fill="rgba(245,64,70,0.86)"/><circle cx="202.8" cy="596.7" r="3.3" fill="rgba(245,64,70,0.86)"/><circle cx="209.5" cy="597.0" r="3.3" fill="rgba(245,64,70,0.86)"/><circle cx="216.2" cy="597.4" r="3.3" fill="rgba(245,64,70,0.86)"/><circle cx="223.0" cy="597.9" r="3.3" fill="rgba(245,64,70,0.86)"/><circle cx="229.7" cy="598.5" r="3.3" fill="rgba(245,64,70,0.86)"/><circle cx="236.4" cy="599.0" r="3.3" fill="rgba(245,64,70,0.86)"/><circle cx="243.2" cy="599.4" r="3.3" fill="rgba(245,64,70,0.86)"/><circle cx="249.9" cy="599.8" r="3.3" fill="rgba(245,64,70,0.86)"/><circle cx="256.6" cy="600.2" r="3.3" fill="rgba(245,64,70,0.86)"/><circle cx="263.3" cy="600.5" r="3.3" fill="rgba(245,64,70,0.86)"/><circle cx="270.1" cy="600.7" r="3.3" fill="rgba(245,64,70,0.86)"/><circle cx="276.8" cy="600.8" r="3.3" fill="rgba(245,64,70,0.86)"/><circle cx="283.5" cy="600.9" r="3.3" fill="rgba(245,64,70,0.86)"/><circle cx="290.3" cy="601.0" r="3.3" fill="rgba(245,64,70,0.86)"/>
<circle cx="74.9" cy="613.0" r="3.3" fill="rgba(245,64,70,0.86)"/><circle cx="81.6" cy="612.6" r="3.3" fill="rgba(245,64,70,0.86)"/><circle cx="88.4" cy="612.2" r="3.3" fill="rgba(245,64,70,0.86)"/><circle cx="95.1" cy="611.7" r="3.3" fill="rgba(245,64,70,0.86)"/><circle cx="101.8" cy="611.0" r="3.3" fill="rgba(245,64,70,0.86)"/><circle cx="108.6" cy="610.0" r="3.3" fill="rgba(245,64,70,0.86)"/><circle cx="115.3" cy="608.8" r="3.3" fill="rgba(245,64,70,0.86)"/><circle cx="122.0" cy="607.5" r="3.3" fill="rgba(245,64,70,0.86)"/><circle cx="128.7" cy="606.5" r="3.3" fill="rgba(245,64,70,0.86)"/><circle cx="135.5" cy="605.6" r="3.3" fill="rgba(245,64,70,0.86)"/><circle cx="142.2" cy="604.8" r="3.3" fill="rgba(245,64,70,0.86)"/><circle cx="148.9" cy="604.3" r="3.3" fill="rgba(245,64,70,0.86)"/><circle cx="209.5" cy="604.0" r="3.3" fill="rgba(245,64,70,0.86)"/><circle cx="216.2" cy="604.0" r="3.3" fill="rgba(245,64,70,0.86)"/><circle cx="223.0" cy="604.3" r="3.3" fill="rgba(245,64,70,0.86)"/><circle cx="229.7" cy="604.7" r="3.3" fill="rgba(245,64,70,0.86)"/><circle cx="236.4" cy="605.0" r="3.3" fill="rgba(245,64,70,0.86)"/><circle cx="243.2" cy="605.2" r="3.3" fill="rgba(245,64,70,0.86)"/><circle cx="249.9" cy="605.4" r="3.3" fill="rgba(245,64,70,0.86)"/><circle cx="256.6" cy="605.6" r="3.3" fill="rgba(245,64,70,0.86)"/><circle cx="263.3" cy="606.0" r="3.3" fill="rgba(245,64,70,0.86)"/><circle cx="270.1" cy="606.6" r="3.3" fill="rgba(245,64,70,0.86)"/><circle cx="276.8" cy="607.4" r="3.3" fill="rgba(245,64,70,0.86)"/><circle cx="283.5" cy="608.2" r="3.3" fill="rgba(245,64,70,0.86)"/><circle cx="290.3" cy="609.0" r="3.3" fill="rgba(245,64,70,0.86)"/><circle cx="297.0" cy="609.8" r="3.3" fill="rgba(245,64,70,0.86)"/><circle cx="303.7" cy="610.5" r="3.3" fill="rgba(245,64,70,0.86)"/><circle cx="310.5" cy="611.2" r="3.3" fill="rgba(245,64,70,0.86)"/><circle cx="317.2" cy="612.0" r="3.3" fill="rgba(245,64,70,0.86)"/>
<circle cx="155.7" cy="604.0" r="3.8" fill="rgba(118,176,244,0.66)"/><circle cx="162.4" cy="604.3" r="3.8" fill="rgba(118,176,244,0.66)"/><circle cx="169.1" cy="605.0" r="3.8" fill="rgba(118,176,244,0.66)"/><circle cx="175.9" cy="605.7" r="3.8" fill="rgba(118,176,244,0.66)"/><circle cx="182.6" cy="606.0" r="3.8" fill="rgba(118,176,244,0.66)"/><circle cx="189.3" cy="605.7" r="3.8" fill="rgba(118,176,244,0.66)"/><circle cx="196.0" cy="605.1" r="3.8" fill="rgba(118,176,244,0.66)"/><circle cx="202.8" cy="604.4" r="3.8" fill="rgba(118,176,244,0.66)"/>
<circle cx="155.7" cy="604.0" r="2.5" fill="rgba(222,78,88,0.92)"/><circle cx="162.4" cy="604.3" r="2.5" fill="rgba(222,78,88,0.92)"/><circle cx="169.1" cy="605.0" r="2.5" fill="rgba(222,78,88,0.92)"/><circle cx="175.9" cy="605.7" r="2.5" fill="rgba(222,78,88,0.92)"/><circle cx="182.6" cy="606.0" r="2.5" fill="rgba(222,78,88,0.92)"/><circle cx="189.3" cy="605.7" r="2.5" fill="rgba(222,78,88,0.92)"/><circle cx="196.0" cy="605.1" r="2.5" fill="rgba(222,78,88,0.92)"/><circle cx="202.8" cy="604.4" r="2.5" fill="rgba(222,78,88,0.92)"/>
<circle cx="74.9" cy="615.5" r="3.3" fill="rgba(245,64,70,0.86)"/><circle cx="81.6" cy="615.4" r="3.3" fill="rgba(245,64,70,0.86)"/><circle cx="88.4" cy="615.3" r="3.3" fill="rgba(245,64,70,0.86)"/><circle cx="95.1" cy="615.3" r="3.3" fill="rgba(245,64,70,0.86)"/><circle cx="101.8" cy="615.2" r="3.3" fill="rgba(245,64,70,0.86)"/><circle cx="108.6" cy="614.9" r="3.3" fill="rgba(245,64,70,0.86)"/><circle cx="115.3" cy="614.5" r="3.3" fill="rgba(245,64,70,0.86)"/><circle cx="122.0" cy="613.6" r="3.3" fill="rgba(245,64,70,0.86)"/><circle cx="128.7" cy="612.3" r="3.3" fill="rgba(245,64,70,0.86)"/><circle cx="135.5" cy="611.0" r="3.3" fill="rgba(245,64,70,0.86)"/><circle cx="216.2" cy="609.1" r="3.3" fill="rgba(245,64,70,0.86)"/><circle cx="223.0" cy="609.0" r="3.3" fill="rgba(245,64,70,0.86)"/><circle cx="229.7" cy="609.3" r="3.3" fill="rgba(245,64,70,0.86)"/><circle cx="236.4" cy="609.9" r="3.3" fill="rgba(245,64,70,0.86)"/><circle cx="243.2" cy="610.5" r="3.3" fill="rgba(245,64,70,0.86)"/><circle cx="249.9" cy="611.0" r="3.3" fill="rgba(245,64,70,0.86)"/><circle cx="256.6" cy="611.3" r="3.3" fill="rgba(245,64,70,0.86)"/><circle cx="263.3" cy="611.5" r="3.3" fill="rgba(245,64,70,0.86)"/><circle cx="270.1" cy="611.7" r="3.3" fill="rgba(245,64,70,0.86)"/><circle cx="276.8" cy="612.0" r="3.3" fill="rgba(245,64,70,0.86)"/><circle cx="283.5" cy="612.4" r="3.3" fill="rgba(245,64,70,0.86)"/><circle cx="290.3" cy="612.9" r="3.3" fill="rgba(245,64,70,0.86)"/><circle cx="297.0" cy="613.4" r="3.3" fill="rgba(245,64,70,0.86)"/><circle cx="303.7" cy="614.0" r="3.3" fill="rgba(245,64,70,0.86)"/><circle cx="310.5" cy="614.5" r="3.3" fill="rgba(245,64,70,0.86)"/><circle cx="317.2" cy="615.0" r="3.3" fill="rgba(245,64,70,0.86)"/>
<circle cx="142.2" cy="610.0" r="3.8" fill="rgba(118,176,244,0.66)"/><circle cx="148.9" cy="609.5" r="3.8" fill="rgba(118,176,244,0.66)"/><circle cx="155.7" cy="609.2" r="3.8" fill="rgba(118,176,244,0.66)"/><circle cx="162.4" cy="609.0" r="3.8" fill="rgba(118,176,244,0.66)"/><circle cx="169.1" cy="609.0" r="3.8" fill="rgba(118,176,244,0.66)"/><circle cx="175.9" cy="609.2" r="3.8" fill="rgba(118,176,244,0.66)"/><circle cx="182.6" cy="609.5" r="3.8" fill="rgba(118,176,244,0.66)"/><circle cx="189.3" cy="609.8" r="3.8" fill="rgba(118,176,244,0.66)"/><circle cx="196.0" cy="610.0" r="3.8" fill="rgba(118,176,244,0.66)"/><circle cx="202.8" cy="609.8" r="3.8" fill="rgba(118,176,244,0.66)"/><circle cx="209.5" cy="609.4" r="3.8" fill="rgba(118,176,244,0.66)"/>
<circle cx="142.2" cy="610.0" r="2.5" fill="rgba(222,78,88,0.92)"/><circle cx="148.9" cy="609.5" r="2.5" fill="rgba(222,78,88,0.92)"/><circle cx="155.7" cy="609.2" r="2.5" fill="rgba(222,78,88,0.92)"/><circle cx="162.4" cy="609.0" r="2.5" fill="rgba(222,78,88,0.92)"/><circle cx="169.1" cy="609.0" r="2.5" fill="rgba(222,78,88,0.92)"/><circle cx="175.9" cy="609.2" r="2.5" fill="rgba(222,78,88,0.92)"/><circle cx="182.6" cy="609.5" r="2.5" fill="rgba(222,78,88,0.92)"/><circle cx="189.3" cy="609.8" r="2.5" fill="rgba(222,78,88,0.92)"/><circle cx="196.0" cy="610.0" r="2.5" fill="rgba(222,78,88,0.92)"/><circle cx="202.8" cy="609.8" r="2.5" fill="rgba(222,78,88,0.92)"/><circle cx="209.5" cy="609.4" r="2.5" fill="rgba(222,78,88,0.92)"/>
<circle cx="74.9" cy="618.0" r="3.3" fill="rgba(245,64,70,0.86)"/><circle cx="81.6" cy="618.0" r="3.3" fill="rgba(245,64,70,0.86)"/><circle cx="88.4" cy="617.9" r="3.3" fill="rgba(245,64,70,0.86)"/><circle cx="95.1" cy="617.9" r="3.3" fill="rgba(245,64,70,0.86)"/><circle cx="101.8" cy="617.9" r="3.3" fill="rgba(245,64,70,0.86)"/><circle cx="108.6" cy="617.9" r="3.3" fill="rgba(245,64,70,0.86)"/><circle cx="115.3" cy="617.8" r="3.3" fill="rgba(245,64,70,0.86)"/><circle cx="122.0" cy="617.7" r="3.3" fill="rgba(245,64,70,0.86)"/><circle cx="128.7" cy="617.5" r="3.3" fill="rgba(245,64,70,0.86)"/><circle cx="135.5" cy="617.1" r="3.3" fill="rgba(245,64,70,0.86)"/><circle cx="142.2" cy="616.5" r="3.3" fill="rgba(245,64,70,0.86)"/><circle cx="148.9" cy="615.9" r="3.3" fill="rgba(245,64,70,0.86)"/><circle cx="155.7" cy="615.5" r="3.3" fill="rgba(245,64,70,0.86)"/><circle cx="229.7" cy="614.8" r="3.3" fill="rgba(245,64,70,0.86)"/><circle cx="236.4" cy="615.0" r="3.3" fill="rgba(245,64,70,0.86)"/><circle cx="243.2" cy="615.2" r="3.3" fill="rgba(245,64,70,0.86)"/><circle cx="249.9" cy="615.5" r="3.3" fill="rgba(245,64,70,0.86)"/><circle cx="256.6" cy="615.7" r="3.3" fill="rgba(245,64,70,0.86)"/><circle cx="263.3" cy="616.0" r="3.3" fill="rgba(245,64,70,0.86)"/><circle cx="270.1" cy="616.2" r="3.3" fill="rgba(245,64,70,0.86)"/><circle cx="276.8" cy="616.5" r="3.3" fill="rgba(245,64,70,0.86)"/><circle cx="283.5" cy="616.8" r="3.3" fill="rgba(245,64,70,0.86)"/><circle cx="290.3" cy="617.0" r="3.3" fill="rgba(245,64,70,0.86)"/><circle cx="297.0" cy="617.2" r="3.3" fill="rgba(245,64,70,0.86)"/><circle cx="303.7" cy="617.5" r="3.3" fill="rgba(245,64,70,0.86)"/><circle cx="310.5" cy="617.8" r="3.3" fill="rgba(245,64,70,0.86)"/><circle cx="317.2" cy="618.0" r="3.3" fill="rgba(245,64,70,0.86)"/>
<circle cx="162.4" cy="615.5" r="3.8" fill="rgba(118,176,244,0.66)"/><circle cx="169.1" cy="615.7" r="3.8" fill="rgba(118,176,244,0.66)"/><circle cx="175.9" cy="616.0" r="3.8" fill="rgba(118,176,244,0.66)"/><circle cx="182.6" cy="616.0" r="3.8" fill="rgba(118,176,244,0.66)"/><circle cx="189.3" cy="615.7" r="3.8" fill="rgba(118,176,244,0.66)"/><circle cx="196.0" cy="615.2" r="3.8" fill="rgba(118,176,244,0.66)"/><circle cx="202.8" cy="614.8" r="3.8" fill="rgba(118,176,244,0.66)"/><circle cx="209.5" cy="614.5" r="3.8" fill="rgba(118,176,244,0.66)"/><circle cx="216.2" cy="614.5" r="3.8" fill="rgba(118,176,244,0.66)"/><circle cx="223.0" cy="614.6" r="3.8" fill="rgba(118,176,244,0.66)"/>
<circle cx="162.4" cy="615.5" r="2.5" fill="rgba(222,78,88,0.92)"/><circle cx="169.1" cy="615.7" r="2.5" fill="rgba(222,78,88,0.92)"/><circle cx="175.9" cy="616.0" r="2.5" fill="rgba(222,78,88,0.92)"/><circle cx="182.6" cy="616.0" r="2.5" fill="rgba(222,78,88,0.92)"/><circle cx="189.3" cy="615.7" r="2.5" fill="rgba(222,78,88,0.92)"/><circle cx="196.0" cy="615.2" r="2.5" fill="rgba(222,78,88,0.92)"/><circle cx="202.8" cy="614.8" r="2.5" fill="rgba(222,78,88,0.92)"/><circle cx="209.5" cy="614.5" r="2.5" fill="rgba(222,78,88,0.92)"/><circle cx="216.2" cy="614.5" r="2.5" fill="rgba(222,78,88,0.92)"/><circle cx="223.0" cy="614.6" r="2.5" fill="rgba(222,78,88,0.92)"/>
<circle cx="155.7" cy="589.5" r="3.3" fill="rgba(245,64,70,0.86)"/><circle cx="162.4" cy="587.9" r="3.3" fill="rgba(245,64,70,0.86)"/><circle cx="169.1" cy="586.5" r="3.3" fill="rgba(245,64,70,0.86)"/><circle cx="175.9" cy="585.3" r="3.3" fill="rgba(245,64,70,0.86)"/><circle cx="182.6" cy="584.5" r="3.3" fill="rgba(245,64,70,0.86)"/><circle cx="189.3" cy="584.4" r="3.3" fill="rgba(245,64,70,0.86)"/><circle cx="196.0" cy="585.0" r="3.3" fill="rgba(245,64,70,0.86)"/><circle cx="236.4" cy="592.0" r="3.3" fill="rgba(245,64,70,0.86)"/>
<circle cx="169.1" cy="577.0" r="3.3" fill="rgba(245,64,70,0.86)"/><circle cx="175.9" cy="576.1" r="3.3" fill="rgba(245,64,70,0.86)"/><circle cx="182.6" cy="575.5" r="3.3" fill="rgba(245,64,70,0.86)"/><circle cx="189.3" cy="576.1" r="3.3" fill="rgba(245,64,70,0.86)"/><circle cx="196.0" cy="577.0" r="3.3" fill="rgba(245,64,70,0.86)"/><circle cx="202.8" cy="577.9" r="3.3" fill="rgba(245,64,70,0.86)"/><circle cx="209.5" cy="578.5" r="3.3" fill="rgba(245,64,70,0.86)"/><circle cx="216.2" cy="578.3" r="3.3" fill="rgba(245,64,70,0.86)"/><circle cx="223.0" cy="578.0" r="3.3" fill="rgba(245,64,70,0.86)"/><circle cx="229.7" cy="578.4" r="3.3" fill="rgba(245,64,70,0.86)"/><circle cx="236.4" cy="579.0" r="3.3" fill="rgba(245,64,70,0.86)"/>
<circle cx="74.9" cy="592.5" r="2.8" fill="rgba(245,64,70,0.86)"/><circle cx="81.6" cy="592.5" r="2.8" fill="rgba(245,64,70,0.86)"/><circle cx="88.4" cy="592.6" r="2.8" fill="rgba(245,64,70,0.86)"/><circle cx="95.1" cy="592.6" r="2.8" fill="rgba(245,64,70,0.86)"/><circle cx="101.8" cy="592.5" r="2.8" fill="rgba(245,64,70,0.86)"/><circle cx="108.6" cy="592.1" r="2.8" fill="rgba(245,64,70,0.86)"/><circle cx="115.3" cy="591.5" r="2.8" fill="rgba(245,64,70,0.86)"/><circle cx="122.0" cy="591.0" r="2.8" fill="rgba(245,64,70,0.86)"/><circle cx="128.7" cy="591.4" r="2.8" fill="rgba(245,64,70,0.86)"/><circle cx="135.5" cy="592.1" r="2.8" fill="rgba(245,64,70,0.86)"/><circle cx="142.2" cy="592.7" r="2.8" fill="rgba(245,64,70,0.86)"/><circle cx="148.9" cy="593.3" r="2.8" fill="rgba(245,64,70,0.86)"/><circle cx="155.7" cy="593.4" r="2.8" fill="rgba(245,64,70,0.86)"/><circle cx="162.4" cy="593.0" r="2.8" fill="rgba(245,64,70,0.86)"/><circle cx="169.1" cy="590.7" r="2.8" fill="rgba(245,64,70,0.86)"/><circle cx="175.9" cy="586.9" r="2.8" fill="rgba(245,64,70,0.86)"/><circle cx="182.6" cy="584.0" r="2.8" fill="rgba(245,64,70,0.86)"/><circle cx="189.3" cy="582.9" r="2.8" fill="rgba(245,64,70,0.86)"/><circle cx="196.0" cy="582.5" r="2.8" fill="rgba(245,64,70,0.86)"/><circle cx="202.8" cy="582.3" r="2.8" fill="rgba(245,64,70,0.86)"/><circle cx="209.5" cy="582.0" r="2.8" fill="rgba(245,64,70,0.86)"/><circle cx="216.2" cy="581.4" r="2.8" fill="rgba(245,64,70,0.86)"/><circle cx="223.0" cy="580.8" r="2.8" fill="rgba(245,64,70,0.86)"/><circle cx="229.7" cy="580.3" r="2.8" fill="rgba(245,64,70,0.86)"/><circle cx="236.4" cy="580.0" r="2.8" fill="rgba(245,64,70,0.86)"/><circle cx="243.2" cy="580.2" r="2.8" fill="rgba(245,64,70,0.86)"/><circle cx="249.9" cy="580.7" r="2.8" fill="rgba(245,64,70,0.86)"/><circle cx="256.6" cy="581.0" r="2.8" fill="rgba(245,64,70,0.86)"/><circle cx="263.3" cy="580.6" r="2.8" fill="rgba(245,64,70,0.86)"/><circle cx="270.1" cy="579.9" r="2.8" fill="rgba(245,64,70,0.86)"/><circle cx="276.8" cy="579.5" r="2.8" fill="rgba(245,64,70,0.86)"/><circle cx="283.5" cy="581.0" r="2.8" fill="rgba(245,64,70,0.86)"/><circle cx="290.3" cy="584.5" r="2.8" fill="rgba(245,64,70,0.86)"/><circle cx="297.0" cy="588.0" r="2.8" fill="rgba(245,64,70,0.86)"/><circle cx="303.7" cy="591.0" r="2.8" fill="rgba(245,64,70,0.86)"/><circle cx="310.5" cy="592.3" r="2.8" fill="rgba(245,64,70,0.86)"/><circle cx="317.2" cy="592.7" r="2.8" fill="rgba(245,64,70,0.86)"/>
<circle cx="74.9" cy="606.0" r="3.3" fill="rgba(245,64,70,0.86)"/><circle cx="81.6" cy="604.0" r="3.3" fill="rgba(245,64,70,0.86)"/><circle cx="88.4" cy="602.0" r="3.3" fill="rgba(245,64,70,0.86)"/><circle cx="95.1" cy="600.0" r="3.3" fill="rgba(245,64,70,0.86)"/><circle cx="101.8" cy="598.0" r="3.3" fill="rgba(245,64,70,0.86)"/><circle cx="108.6" cy="596.0" r="3.3" fill="rgba(245,64,70,0.86)"/><circle cx="162.4" cy="581.5" r="3.3" fill="rgba(245,64,70,0.86)"/><circle cx="169.1" cy="580.2" r="3.3" fill="rgba(245,64,70,0.86)"/><circle cx="175.9" cy="578.9" r="3.3" fill="rgba(245,64,70,0.86)"/><circle cx="182.6" cy="577.5" r="3.3" fill="rgba(245,64,70,0.86)"/><circle cx="189.3" cy="575.9" r="3.3" fill="rgba(245,64,70,0.86)"/><circle cx="196.0" cy="574.2" r="3.3" fill="rgba(245,64,70,0.86)"/><circle cx="202.8" cy="572.6" r="3.3" fill="rgba(245,64,70,0.86)"/><circle cx="209.5" cy="571.0" r="3.3" fill="rgba(245,64,70,0.86)"/><circle cx="216.2" cy="569.6" r="3.3" fill="rgba(245,64,70,0.86)"/><circle cx="223.0" cy="568.2" r="3.3" fill="rgba(245,64,70,0.86)"/><circle cx="229.7" cy="566.9" r="3.3" fill="rgba(245,64,70,0.86)"/><circle cx="236.4" cy="565.6" r="3.3" fill="rgba(245,64,70,0.86)"/><circle cx="243.2" cy="564.3" r="3.3" fill="rgba(245,64,70,0.86)"/><circle cx="249.9" cy="563.0" r="3.3" fill="rgba(245,64,70,0.86)"/><circle cx="256.6" cy="561.7" r="3.3" fill="rgba(245,64,70,0.86)"/><circle cx="263.3" cy="560.5" r="3.3" fill="rgba(245,64,70,0.86)"/><circle cx="270.1" cy="559.4" r="3.3" fill="rgba(245,64,70,0.86)"/><circle cx="276.8" cy="558.3" r="3.3" fill="rgba(245,64,70,0.86)"/><circle cx="283.5" cy="557.4" r="3.3" fill="rgba(245,64,70,0.86)"/><circle cx="290.3" cy="556.5" r="3.3" fill="rgba(245,64,70,0.86)"/><circle cx="297.0" cy="555.8" r="3.3" fill="rgba(245,64,70,0.86)"/><circle cx="303.7" cy="555.2" r="3.3" fill="rgba(245,64,70,0.86)"/><circle cx="310.5" cy="554.6" r="3.3" fill="rgba(245,64,70,0.86)"/><circle cx="317.2" cy="554.0" r="3.3" fill="rgba(245,64,70,0.86)"/>
<circle cx="74.9" cy="558.0" r="3.3" fill="rgba(245,64,70,0.86)"/><circle cx="81.6" cy="559.0" r="3.3" fill="rgba(245,64,70,0.86)"/><circle cx="88.4" cy="559.9" r="3.3" fill="rgba(245,64,70,0.86)"/><circle cx="95.1" cy="560.9" r="3.3" fill="rgba(245,64,70,0.86)"/><circle cx="101.8" cy="562.0" r="3.3" fill="rgba(245,64,70,0.86)"/><circle cx="108.6" cy="563.2" r="3.3" fill="rgba(245,64,70,0.86)"/><circle cx="115.3" cy="564.4" r="3.3" fill="rgba(245,64,70,0.86)"/><circle cx="122.0" cy="565.7" r="3.3" fill="rgba(245,64,70,0.86)"/><circle cx="128.7" cy="567.0" r="3.3" fill="rgba(245,64,70,0.86)"/><circle cx="135.5" cy="568.5" r="3.3" fill="rgba(245,64,70,0.86)"/><circle cx="142.2" cy="570.0" r="3.3" fill="rgba(245,64,70,0.86)"/><circle cx="148.9" cy="571.6" r="3.3" fill="rgba(245,64,70,0.86)"/><circle cx="155.7" cy="573.0" r="3.3" fill="rgba(245,64,70,0.86)"/><circle cx="162.4" cy="574.3" r="3.3" fill="rgba(245,64,70,0.86)"/><circle cx="169.1" cy="575.5" r="3.3" fill="rgba(245,64,70,0.86)"/><circle cx="175.9" cy="576.6" r="3.3" fill="rgba(245,64,70,0.86)"/><circle cx="182.6" cy="577.5" r="3.3" fill="rgba(245,64,70,0.86)"/><circle cx="189.3" cy="578.3" r="3.3" fill="rgba(245,64,70,0.86)"/><circle cx="196.0" cy="579.0" r="3.3" fill="rgba(245,64,70,0.86)"/><circle cx="202.8" cy="579.5" r="3.3" fill="rgba(245,64,70,0.86)"/><circle cx="209.5" cy="580.0" r="3.3" fill="rgba(245,64,70,0.86)"/><circle cx="216.2" cy="580.2" r="3.3" fill="rgba(245,64,70,0.86)"/><circle cx="223.0" cy="580.1" r="3.3" fill="rgba(245,64,70,0.86)"/><circle cx="229.7" cy="580.2" r="3.3" fill="rgba(245,64,70,0.86)"/><circle cx="236.4" cy="581.0" r="3.3" fill="rgba(245,64,70,0.86)"/><circle cx="243.2" cy="582.7" r="3.3" fill="rgba(245,64,70,0.86)"/><circle cx="249.9" cy="584.9" r="3.3" fill="rgba(245,64,70,0.86)"/><circle cx="256.6" cy="587.5" r="3.3" fill="rgba(245,64,70,0.86)"/><circle cx="263.3" cy="590.0" r="3.3" fill="rgba(245,64,70,0.86)"/><circle cx="270.1" cy="592.4" r="3.3" fill="rgba(245,64,70,0.86)"/><circle cx="276.8" cy="595.0" r="3.3" fill="rgba(245,64,70,0.86)"/><circle cx="283.5" cy="597.5" r="3.3" fill="rgba(245,64,70,0.86)"/><circle cx="290.3" cy="600.0" r="3.3" fill="rgba(245,64,70,0.86)"/><circle cx="297.0" cy="602.5" r="3.3" fill="rgba(245,64,70,0.86)"/><circle cx="303.7" cy="604.9" r="3.3" fill="rgba(245,64,70,0.86)"/><circle cx="310.5" cy="607.4" r="3.3" fill="rgba(245,64,70,0.86)"/><circle cx="317.2" cy="609.8" r="3.3" fill="rgba(245,64,70,0.86)"/>
<polyline points="142.2,398.5 148.9,403.0 155.7,407.3 162.4,411.1 169.1,414.4 175.9,416.7 182.6,417.5 189.3,416.8 196.0,414.9 202.8,412.2 209.5,409.0 216.2,405.4 223.0,401.6 229.7,397.6" fill="none" stroke="#858585" stroke-width="1.0" stroke-opacity="0.85"/>
<polyline points="135.5,397.4 142.2,402.0 148.9,406.5 155.7,410.8 162.4,414.6 169.1,417.9 175.9,420.2 182.6,421.0 189.3,420.3 196.0,418.4 202.8,415.7 209.5,412.5 216.2,408.9 223.0,405.1 229.7,401.1 236.4,397.0" fill="none" stroke="#858585" stroke-width="1.0" stroke-opacity="0.85"/>
<polyline points="74.9,380.0 81.6,380.0 88.4,380.0 95.1,380.0 101.8,380.0 108.6,380.0 115.3,380.0 122.0,380.0 128.7,380.0 135.5,380.0 142.2,380.0 148.9,380.0 155.7,380.0 162.4,380.0 169.1,380.0 175.9,380.0 182.6,380.0 189.3,380.0 196.0,380.0 202.8,380.0 209.5,380.0 216.2,380.0 223.0,380.0 229.7,380.0 236.4,380.0 243.2,380.0 249.9,380.0 256.6,380.0 263.3,380.0 270.1,380.0 276.8,380.0 283.5,380.0 290.3,380.0 297.0,380.0 303.7,380.0 310.5,380.0 317.2,380.0" fill="none" stroke="#858585" stroke-width="1.0" stroke-opacity="0.85"/>
<polyline points="74.9,383.6 81.6,383.6 88.4,383.6 95.1,383.6 101.8,383.6 108.6,383.6 115.3,383.6 122.0,383.6 128.7,383.6 135.5,383.6 142.2,383.6 148.9,383.6 155.7,383.6 162.4,383.6 169.1,383.6 175.9,383.6 182.6,383.6 189.3,383.6 196.0,383.6 202.8,383.6 209.5,383.6 216.2,383.6 223.0,383.6 229.7,383.6 236.4,383.6 243.2,383.6 249.9,383.6 256.6,383.6 263.3,383.6 270.1,383.6 276.8,383.6 283.5,383.6 290.3,383.6 297.0,383.6 303.7,383.6 310.5,383.6 317.2,383.6" fill="none" stroke="#858585" stroke-width="1.0" stroke-opacity="0.85"/>
<polyline points="74.9,408.4 81.6,407.2 88.4,405.9 95.1,404.4 101.8,402.7 108.6,400.8 115.3,398.9 122.0,397.0 128.7,395.1 135.5,393.1 142.2,391.2 148.9,389.6 155.7,388.5 162.4,387.6 169.1,386.6 175.9,385.3 182.6,384.6 189.3,384.8 196.0,385.2 202.8,385.4 209.5,385.6 216.2,385.8 223.0,386.0 229.7,386.3 236.4,386.8 243.2,387.7 249.9,388.9 256.6,390.1 263.3,391.4 270.1,393.0 276.8,395.6 283.5,398.5 290.3,401.1 297.0,404.1 303.7,406.2 310.5,407.9 317.2,408.9" fill="none" stroke="#858585" stroke-width="1.0" stroke-opacity="0.85"/>
<polyline points="74.9,414.1 81.6,413.0 88.4,411.8 95.1,410.3 101.8,408.7 108.6,407.0 115.3,405.2 122.0,403.3 128.7,401.2 135.5,398.6 142.2,396.0 148.9,394.0 155.7,392.8 162.4,391.9 169.1,390.2 175.9,387.4 182.6,385.9 189.3,386.6 196.0,387.7 202.8,388.4 209.5,388.9 216.2,389.2 223.0,389.7 229.7,390.3 236.4,391.2 243.2,392.9 249.9,394.8 256.6,396.0 263.3,397.1 270.1,398.5 276.8,402.1 283.5,405.0 290.3,407.9 297.0,410.6 303.7,412.5 310.5,414.1 317.2,414.6" fill="none" stroke="#858585" stroke-width="1.0" stroke-opacity="0.85"/>
<polyline points="74.9,410.0 81.6,408.5 88.4,407.1 95.1,405.6 101.8,404.0 108.6,402.3 115.3,400.4 122.0,398.5 128.7,396.5 135.5,394.4 142.2,392.3 148.9,390.0 155.7,387.5 162.4,385.0 169.1,383.0 175.9,381.5 182.6,380.7 189.3,380.5 196.0,380.4 202.8,380.3 209.5,380.3 216.2,380.3 223.0,380.3 229.7,380.4 236.4,380.5 243.2,380.9 249.9,382.0 256.6,383.8 263.3,386.0 270.1,388.6 276.8,391.5 283.5,394.7 290.3,398.0 297.0,401.1 303.7,404.0 310.5,406.3 317.2,408.5" fill="none" stroke="#808080" stroke-width="1.7" stroke-opacity="0.9"/>
<polyline points="101.8,415.2 108.6,415.1 115.3,415.1 122.0,415.0 128.7,414.8 135.5,414.5 142.2,413.5 148.9,412.0 155.7,410.0 162.4,408.0 169.1,405.3 175.9,402.3 182.6,399.3 189.3,400.8 196.0,401.9 202.8,402.0 209.5,402.0 216.2,402.0 223.0,401.9 229.7,401.9 236.4,401.9 243.2,402.5 249.9,404.0 256.6,405.5 263.3,407.0 270.1,408.0 276.8,409.0 283.5,410.5 290.3,412.5 297.0,413.8 303.7,414.2 310.5,414.3 317.2,414.5" fill="none" stroke="#858585" stroke-width="1.0" stroke-opacity="0.85"/>
<polyline points="148.9,395.5 155.7,395.3 162.4,396.0 169.1,396.5 175.9,397.5 182.6,399.3 189.3,396.5 196.0,395.5" fill="none" stroke="#858585" stroke-width="1.0" stroke-opacity="0.85"/>
<polyline points="249.9,406.0 256.6,409.0 263.3,411.5 270.1,412.5 276.8,414.0 283.5,414.3" fill="none" stroke="#858585" stroke-width="1.0" stroke-opacity="0.85"/>
<polyline points="128.7,586.8 135.5,582.0 142.2,577.5 148.9,573.4 155.7,568.5 162.4,565.0 169.1,562.8 175.9,561.8 182.6,561.5 189.3,561.8 196.0,563.0 202.8,566.0 209.5,570.0 216.2,575.0 223.0,580.0 229.7,584.0 236.4,588.0 243.2,592.0" fill="none" stroke="#858585" stroke-width="1.0" stroke-opacity="0.85"/>
<polyline points="142.2,617.0 148.9,615.1 155.7,613.0 162.4,610.2 169.1,607.0 175.9,603.5 182.6,602.0 189.3,602.5 196.0,604.0 202.8,606.4 209.5,609.0 216.2,611.3 223.0,613.5 229.7,615.3 236.4,617.0" fill="none" stroke="#858585" stroke-width="1.0" stroke-opacity="0.85"/>
<polyline points="162.4,619.0 169.1,616.9 175.9,615.0 182.6,614.0 189.3,614.5 196.0,615.7 202.8,617.0 209.5,618.0 216.2,619.0" fill="none" stroke="#858585" stroke-width="1.0" stroke-opacity="0.85"/>
<polyline points="74.9,541.3 81.6,541.8 88.4,542.2 95.1,542.8 101.8,543.5 108.6,544.4 115.3,545.5 122.0,546.8 128.7,548.4 135.5,552.7 142.2,554.8 148.9,557.7 155.7,561.2 162.4,564.8 169.1,569.0 175.9,573.3 182.6,576.8 189.3,575.3 196.0,573.0 202.8,571.4 209.5,570.0 216.2,569.2 223.0,568.5 229.7,567.1 236.4,565.5 243.2,563.6 249.9,560.9 256.6,558.0 263.3,555.0 270.1,552.0 276.8,549.5 283.5,547.5 290.3,546.0 297.0,544.5 303.7,543.0 310.5,542.2 317.2,541.5" fill="none" stroke="#858585" stroke-width="1.0" stroke-opacity="0.85"/>
<polyline points="74.9,542.8 81.6,543.5 88.4,544.0 95.1,544.8 101.8,546.0 108.6,547.8 115.3,550.1 122.0,552.7 128.7,555.5 135.5,560.5 142.2,564.0 148.9,567.6 155.7,570.4 162.4,573.1 169.1,576.0 175.9,578.4 182.6,579.6 189.3,579.3 196.0,577.8 202.8,575.8 209.5,574.0 216.2,572.6 223.0,571.1 229.7,569.6 236.4,568.0 243.2,566.1 249.9,564.0 256.6,562.0 263.3,560.0 270.1,558.2 276.8,556.5 283.5,555.0 290.3,551.0 297.0,548.0 303.7,545.0 310.5,543.6 317.2,542.5" fill="none" stroke="#858585" stroke-width="1.0" stroke-opacity="0.85"/>
<polyline points="74.9,559.4 81.6,561.4 88.4,562.4 95.1,563.8 101.8,565.3 108.6,567.7 115.3,569.6 122.0,571.0 128.7,572.4 135.5,574.8 142.2,577.2 148.9,578.7 155.7,580.4 162.4,580.8 169.1,581.0 175.9,581.0 182.6,581.0 189.3,581.0 196.0,581.0 202.8,580.8 209.5,580.0 216.2,578.4 223.0,576.2 229.7,573.9 236.4,572.0 243.2,570.7 249.9,569.8 256.6,569.0 263.3,568.3 270.1,567.8 276.8,567.0 283.5,565.6 290.3,564.0 297.0,562.4 303.7,561.0 310.5,560.1 317.2,559.4" fill="none" stroke="#858585" stroke-width="1.0" stroke-opacity="0.85"/>
<polyline points="209.5,582.0 216.2,580.4 223.0,578.8 229.7,577.2 236.4,576.0 243.2,575.4 249.9,575.3 256.6,575.0 263.3,574.4 270.1,573.6 276.8,572.5 283.5,570.5 290.3,568.0 297.0,565.1 303.7,562.5 310.5,561.1 317.2,560.2" fill="none" stroke="#858585" stroke-width="1.0" stroke-opacity="0.85"/>
<polyline points="74.9,607.0 81.6,603.5 88.4,599.2 95.1,595.4 101.8,591.6 108.6,588.7 115.3,586.8 122.0,585.8 128.7,584.4 135.5,583.0 142.2,582.5 148.9,581.5 155.7,580.6 162.4,581.0 169.1,581.6 175.9,582.3 182.6,583.0 189.3,583.8 196.0,584.6 202.8,585.4 209.5,586.0 216.2,586.1 223.0,585.9 229.7,585.8 236.4,586.0 243.2,586.6 249.9,587.5 256.6,588.6 263.3,590.0 270.1,591.7 276.8,593.8 283.5,595.9 290.3,598.0 297.0,600.0 303.7,602.0 310.5,604.0 317.2,606.0" fill="none" stroke="#858585" stroke-width="1.0" stroke-opacity="0.85"/>
<polyline points="74.9,610.5 81.6,608.8 88.4,606.9 95.1,604.0 101.8,600.7 108.6,597.8 115.3,596.4 122.0,595.0 128.7,594.0 135.5,593.4 142.2,593.0 148.9,592.7 155.7,592.5 162.4,592.5 169.1,592.6 175.9,592.8 182.6,593.0 189.3,593.3 196.0,593.8 202.8,594.2 209.5,594.5 216.2,594.7 223.0,594.7 229.7,594.8 236.4,595.0 243.2,595.3 249.9,595.7 256.6,596.2 263.3,597.0 270.1,598.2 276.8,599.7 283.5,601.4 290.3,603.0 297.0,604.6 303.7,606.2 310.5,607.9 317.2,609.5" fill="none" stroke="#858585" stroke-width="1.0" stroke-opacity="0.85"/>
<polyline points="101.8,600.2 108.6,600.2 115.3,600.2 122.0,600.2 128.7,600.0 135.5,599.6 142.2,599.1 148.9,598.5 155.7,598.0 162.4,597.5 169.1,597.1 175.9,596.7 182.6,596.5 189.3,596.4 196.0,596.5 202.8,596.7 209.5,597.0 216.2,597.4 223.0,597.9 229.7,598.5 236.4,599.0 243.2,599.4 249.9,599.8 256.6,600.2 263.3,600.5 270.1,600.7 276.8,600.8 283.5,600.9 290.3,601.0" fill="none" stroke="#858585" stroke-width="1.0" stroke-opacity="0.85"/>
<polyline points="74.9,613.0 81.6,612.6 88.4,612.2 95.1,611.7 101.8,611.0 108.6,610.0 115.3,608.8 122.0,607.5 128.7,606.5 135.5,605.6 142.2,604.8 148.9,604.3 155.7,604.0 162.4,604.3 169.1,605.0 175.9,605.7 182.6,606.0 189.3,605.7 196.0,605.1 202.8,604.4 209.5,604.0 216.2,604.0 223.0,604.3 229.7,604.7 236.4,605.0 243.2,605.2 249.9,605.4 256.6,605.6 263.3,606.0 270.1,606.6 276.8,607.4 283.5,608.2 290.3,609.0 297.0,609.8 303.7,610.5 310.5,611.2 317.2,612.0" fill="none" stroke="#858585" stroke-width="1.0" stroke-opacity="0.85"/>
<polyline points="74.9,615.5 81.6,615.4 88.4,615.3 95.1,615.3 101.8,615.2 108.6,614.9 115.3,614.5 122.0,613.6 128.7,612.3 135.5,611.0 142.2,610.0 148.9,609.5 155.7,609.2 162.4,609.0 169.1,609.0 175.9,609.2 182.6,609.5 189.3,609.8 196.0,610.0 202.8,609.8 209.5,609.4 216.2,609.1 223.0,609.0 229.7,609.3 236.4,609.9 243.2,610.5 249.9,611.0 256.6,611.3 263.3,611.5 270.1,611.7 276.8,612.0 283.5,612.4 290.3,612.9 297.0,613.4 303.7,614.0 310.5,614.5 317.2,615.0" fill="none" stroke="#858585" stroke-width="1.0" stroke-opacity="0.85"/>
<polyline points="74.9,618.0 81.6,618.0 88.4,617.9 95.1,617.9 101.8,617.9 108.6,617.9 115.3,617.8 122.0,617.7 128.7,617.5 135.5,617.1 142.2,616.5 148.9,615.9 155.7,615.5 162.4,615.5 169.1,615.7 175.9,616.0 182.6,616.0 189.3,615.7 196.0,615.2 202.8,614.8 209.5,614.5 216.2,614.5 223.0,614.6 229.7,614.8 236.4,615.0 243.2,615.2 249.9,615.5 256.6,615.7 263.3,616.0 270.1,616.2 276.8,616.5 283.5,616.8 290.3,617.0 297.0,617.2 303.7,617.5 310.5,617.8 317.2,618.0" fill="none" stroke="#858585" stroke-width="1.0" stroke-opacity="0.85"/>
<polyline points="155.7,589.5 162.4,587.9 169.1,586.5 175.9,585.3 182.6,584.5 189.3,584.4 196.0,585.0 202.8,586.3 209.5,588.0 216.2,589.6 223.0,591.0 229.7,591.6 236.4,592.0" fill="none" stroke="#858585" stroke-width="1.0" stroke-opacity="0.85"/>
<polyline points="169.1,577.0 175.9,576.1 182.6,575.5 189.3,576.1 196.0,577.0 202.8,577.9 209.5,578.5 216.2,578.3 223.0,578.0 229.7,578.4 236.4,579.0" fill="none" stroke="#858585" stroke-width="1.0" stroke-opacity="0.85"/>
<polyline points="74.9,592.5 81.6,592.5 88.4,592.6 95.1,592.6 101.8,592.5 108.6,592.1 115.3,591.5 122.0,591.0 128.7,591.4 135.5,592.1 142.2,592.7 148.9,593.3 155.7,593.4 162.4,593.0 169.1,590.7 175.9,586.9 182.6,584.0 189.3,582.9 196.0,582.5 202.8,582.3 209.5,582.0 216.2,581.4 223.0,580.8 229.7,580.3 236.4,580.0 243.2,580.2 249.9,580.7 256.6,581.0 263.3,580.6 270.1,579.9 276.8,579.5 283.5,581.0 290.3,584.5 297.0,588.0 303.7,591.0 310.5,592.3 317.2,592.7" fill="none" stroke="#858585" stroke-width="1.0" stroke-opacity="0.85"/>
<polyline points="74.9,606.0 81.6,604.0 88.4,602.0 95.1,600.0 101.8,598.0 108.6,596.0 115.3,593.9 122.0,591.9 128.7,590.0 135.5,588.1 142.2,586.3 148.9,584.6 155.7,583.0 162.4,581.5 169.1,580.2 175.9,578.9 182.6,577.5 189.3,575.9 196.0,574.2 202.8,572.6 209.5,571.0 216.2,569.6 223.0,568.2 229.7,566.9 236.4,565.6 243.2,564.3 249.9,563.0 256.6,561.7 263.3,560.5 270.1,559.4 276.8,558.3 283.5,557.4 290.3,556.5 297.0,555.8 303.7,555.2 310.5,554.6 317.2,554.0" fill="none" stroke="#808080" stroke-width="1.5" stroke-opacity="0.9"/>
<polyline points="74.9,558.0 81.6,559.0 88.4,559.9 95.1,560.9 101.8,562.0 108.6,563.2 115.3,564.4 122.0,565.7 128.7,567.0 135.5,568.5 142.2,570.0 148.9,571.6 155.7,573.0 162.4,574.3 169.1,575.5 175.9,576.6 182.6,577.5 189.3,578.3 196.0,579.0 202.8,579.5 209.5,580.0 216.2,580.2 223.0,580.1 229.7,580.2 236.4,581.0 243.2,582.7 249.9,584.9 256.6,587.5 263.3,590.0 270.1,592.4 276.8,595.0 283.5,597.5 290.3,600.0 297.0,602.5 303.7,604.9 310.5,607.4 317.2,609.8" fill="none" stroke="#808080" stroke-width="1.5" stroke-opacity="0.9"/>
</g>
<line x1="182.4" y1="377.40" x2="182.4" y2="619.60" stroke="#444" stroke-width="0.9"/>
<line x1="236.7" y1="377.40" x2="236.7" y2="619.60" stroke="#999" stroke-width="0.9"/>
<line x1="73.1" y1="421.7" x2="321" y2="421.7" stroke="#3a6cc8" stroke-width="2" stroke-dasharray="8.6,6.6"/>
<rect x="74.10" y="377.40" width="243.40" height="242.20" fill="none" stroke="#000" stroke-width="2.2"/>
<line x1="74.10" y1="423.50" x2="84.10" y2="423.50" stroke="#000" stroke-width="2.2"/>
<text x="62.8" y="430.60" font-family="Liberation Sans, sans-serif" font-size="20" text-anchor="end">&#8722;4</text>
<line x1="74.10" y1="517.00" x2="84.10" y2="517.00" stroke="#000" stroke-width="2.2"/>
<text x="62.8" y="524.10" font-family="Liberation Sans, sans-serif" font-size="20" text-anchor="end">&#8722;5</text>
<line x1="74.10" y1="610.50" x2="84.10" y2="610.50" stroke="#000" stroke-width="2.2"/>
<text x="62.8" y="617.60" font-family="Liberation Sans, sans-serif" font-size="20" text-anchor="end">&#8722;6</text>
<line x1="182.6" y1="619.60" x2="182.6" y2="610.10" stroke="#000" stroke-width="2.1"/>
<line x1="236.9" y1="619.60" x2="236.9" y2="610.10" stroke="#000" stroke-width="2.1"/>
<path d="M69.80,633.30 Q72.40,638.20 74.00,641.70 M78.20,633.30 Q75.60,638.20 74.00,641.70 L74.00,649.00" fill="none" stroke="#000" stroke-width="1.75"/>
<path d="M313.30,633.30 Q315.90,638.20 317.50,641.70 M321.70,633.30 Q319.10,638.20 317.50,641.70 L317.50,649.00" fill="none" stroke="#000" stroke-width="1.75"/>
<text x="182.7" y="644.6" font-family="Liberation Sans, sans-serif" font-size="20" text-anchor="middle">&#954;</text>
<text x="237.6" y="644.6" font-family="Liberation Sans, sans-serif" font-size="20" text-anchor="middle">&#956;</text>
<circle cx="243.9" cy="449.3" r="5.4" fill="#589ef2"/>
<text x="263.8" y="458" font-family="Liberation Sans, sans-serif" font-size="21">WS<tspan font-size="13.5" dy="4.6">2</tspan></text>
<circle cx="243.9" cy="493.3" r="5.4" fill="#f84343"/>
<text x="256.6" y="500.1" font-family="Liberation Sans, sans-serif" font-size="20.5">MoSe<tspan font-size="13.5" dy="4.6" dx="-0.8">2</tspan></text>
<text transform="translate(24.2,498.2) rotate(-90)" font-family="Liberation Sans, sans-serif" font-size="20" text-anchor="middle">Energy (eV)</text>
<rect x="447.6" y="380.70" width="75.4" height="50.93" fill="#f84343"/>
<rect x="593.5" y="380.70" width="76.5" height="44.95" fill="#589ef2"/>
<rect x="447.6" y="556.61" width="75.4" height="63.29" fill="#f84343"/>
<rect x="593.5" y="569.17" width="76.5" height="50.73" fill="#589ef2"/>
<rect x="437.90" y="380.70" width="241.10" height="239.20" fill="none" stroke="#000" stroke-width="2.2"/>
<line x1="437.90" y1="380.70" x2="448.40" y2="380.70" stroke="#000" stroke-width="2.2"/>
<text x="427.3" y="387.90" font-family="Liberation Sans, sans-serif" font-size="20" text-anchor="end">&#8722;3</text>
<line x1="437.90" y1="440.50" x2="448.40" y2="440.50" stroke="#000" stroke-width="2.2"/>
<text x="427.3" y="447.70" font-family="Liberation Sans, sans-serif" font-size="20" text-anchor="end">&#8722;4</text>
<line x1="437.90" y1="500.30" x2="448.40" y2="500.30" stroke="#000" stroke-width="2.2"/>
<text x="427.3" y="507.50" font-family="Liberation Sans, sans-serif" font-size="20" text-anchor="end">&#8722;5</text>
<line x1="437.90" y1="560.10" x2="448.40" y2="560.10" stroke="#000" stroke-width="2.2"/>
<text x="427.3" y="567.30" font-family="Liberation Sans, sans-serif" font-size="20" text-anchor="end">&#8722;6</text>
<line x1="437.90" y1="619.90" x2="448.40" y2="619.90" stroke="#000" stroke-width="2.2"/>
<text x="427.3" y="627.10" font-family="Liberation Sans, sans-serif" font-size="20" text-anchor="end">&#8722;7</text>
<line x1="485.60" y1="619.90" x2="485.60" y2="609.90" stroke="#000" stroke-width="2.2"/>
<line x1="631.80" y1="619.90" x2="631.80" y2="609.90" stroke="#000" stroke-width="2.2"/>
<path d="M478.30,632.30 Q480.90,637.60 482.50,641.10 M486.70,632.30 Q484.10,637.60 482.50,641.10 L482.50,646.80" fill="none" stroke="#000" stroke-width="1.75"/>
<text x="631.6" y="642.6" font-family="Liberation Sans, sans-serif" font-size="20" text-anchor="middle">&#954;</text>
<text x="457.2" y="457.8" font-family="Liberation Sans, sans-serif" font-size="19.6">-3.83</text>
<text x="607.9" y="449.6" font-family="Liberation Sans, sans-serif" font-size="19.6">-3.73</text>
<text x="455.1" y="543.6" font-family="Liberation Sans, sans-serif" font-size="19.6">-5.95</text>
<text x="607.2" y="558.6" font-family="Liberation Sans, sans-serif" font-size="19.6">-6.16</text>
<text transform="translate(389.3,500.3) rotate(-90)" font-family="Liberation Sans, sans-serif" font-size="20" text-anchor="middle">QP Energy (eV)</text>
<text x="-0.3" y="18.6" font-family="Liberation Sans, sans-serif" font-size="20.5">(a)</text>
<text x="367" y="18.6" font-family="Liberation Sans, sans-serif" font-size="20.5">(b)</text>
<text x="-0.1" y="354.4" font-family="Liberation Sans, sans-serif" font-size="20.5">(c)</text>
<text x="370.6" y="354.4" font-family="Liberation Sans, sans-serif" font-size="20.5">(d)</text>
</svg>
</body></html>
